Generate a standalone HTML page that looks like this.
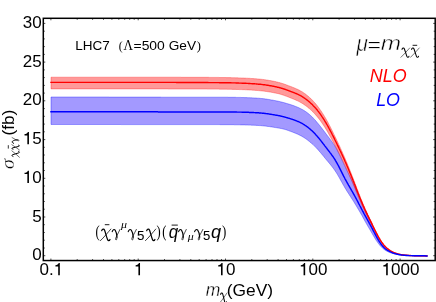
<!DOCTYPE html>
<html><head><meta charset="utf-8"><title>plot</title>
<style>html,body{margin:0;padding:0;background:#fff;}body{width:436px;height:302px;overflow:hidden;font-family:"Liberation Sans",sans-serif;}svg{display:block;position:absolute;left:0;top:0;will-change:transform;}</style></head>
<body>
<svg width="436" height="302" viewBox="0 0 436 302">
<rect width="436" height="302" fill="#fff"/>
<path d="M51.0 97.0 L51.5 97.0 L52.0 97.0 L52.5 97.0 L53.0 97.0 L53.5 97.0 L54.0 97.0 L54.5 97.0 L55.0 97.0 L55.5 97.0 L56.0 97.0 L56.5 97.0 L57.0 97.0 L57.5 97.0 L58.0 97.0 L58.5 97.0 L59.0 97.0 L59.5 97.0 L60.0 97.0 L60.5 97.0 L61.0 97.0 L61.5 97.0 L62.0 97.0 L62.5 97.0 L63.0 97.0 L63.5 97.0 L64.0 97.0 L64.5 97.0 L65.0 97.0 L65.5 97.0 L66.0 97.0 L66.5 97.0 L67.0 97.0 L67.5 97.0 L68.0 97.0 L68.5 97.0 L69.0 97.0 L69.5 97.0 L70.0 97.0 L70.5 97.0 L71.0 97.0 L71.5 97.0 L72.0 97.0 L72.5 97.0 L73.0 97.0 L73.5 97.0 L74.0 97.0 L74.5 97.0 L75.0 97.0 L75.5 97.0 L76.0 97.0 L76.5 97.0 L77.0 97.0 L77.5 97.0 L78.0 97.0 L78.5 97.0 L79.0 97.0 L79.5 97.0 L80.0 97.0 L80.5 97.0 L81.0 97.0 L81.5 97.0 L82.0 97.0 L82.5 97.0 L83.0 97.0 L83.5 97.0 L84.0 97.0 L84.5 97.0 L85.0 97.0 L85.5 97.0 L86.0 97.0 L86.5 97.0 L87.0 97.0 L87.5 97.0 L88.0 97.0 L88.5 97.0 L89.0 97.0 L89.5 97.0 L90.0 97.0 L90.5 97.0 L91.0 97.0 L91.5 97.0 L92.0 97.0 L92.5 97.0 L93.0 97.0 L93.5 97.0 L94.0 97.0 L94.5 97.0 L95.0 97.0 L95.5 97.0 L96.0 97.0 L96.5 97.0 L97.0 97.0 L97.5 97.0 L98.0 97.0 L98.5 97.0 L99.0 97.0 L99.5 97.0 L100.0 97.0 L100.5 97.0 L101.0 97.0 L101.5 97.0 L102.0 97.0 L102.5 97.0 L103.0 97.0 L103.5 97.0 L104.0 97.0 L104.5 97.0 L105.0 97.0 L105.5 97.0 L106.0 97.0 L106.5 97.0 L107.0 97.0 L107.5 97.0 L108.0 97.0 L108.5 97.0 L109.0 97.1 L109.5 97.1 L110.0 97.1 L110.5 97.1 L111.0 97.1 L111.5 97.1 L112.0 97.1 L112.5 97.1 L113.0 97.1 L113.5 97.1 L114.0 97.1 L114.5 97.1 L115.0 97.1 L115.5 97.1 L116.0 97.1 L116.5 97.1 L117.0 97.1 L117.5 97.1 L118.0 97.1 L118.5 97.1 L119.0 97.1 L119.5 97.1 L120.0 97.1 L120.5 97.1 L121.0 97.1 L121.5 97.1 L122.0 97.1 L122.5 97.1 L123.0 97.1 L123.5 97.1 L124.0 97.1 L124.5 97.1 L125.0 97.1 L125.5 97.1 L126.0 97.1 L126.5 97.1 L127.0 97.1 L127.5 97.1 L128.0 97.1 L128.5 97.1 L129.0 97.1 L129.5 97.1 L130.0 97.1 L130.5 97.1 L131.0 97.1 L131.5 97.1 L132.0 97.1 L132.5 97.1 L133.0 97.1 L133.5 97.1 L134.0 97.1 L134.5 97.1 L135.0 97.1 L135.5 97.1 L136.0 97.1 L136.5 97.1 L137.0 97.1 L137.5 97.1 L138.0 97.1 L138.5 97.1 L139.0 97.1 L139.5 97.1 L140.0 97.1 L140.5 97.1 L141.0 97.1 L141.5 97.1 L142.0 97.1 L142.5 97.1 L143.0 97.1 L143.5 97.1 L144.0 97.1 L144.5 97.1 L145.0 97.1 L145.5 97.1 L146.0 97.1 L146.5 97.1 L147.0 97.1 L147.5 97.1 L148.0 97.1 L148.5 97.1 L149.0 97.1 L149.5 97.1 L150.0 97.1 L150.5 97.1 L151.0 97.1 L151.5 97.1 L152.0 97.1 L152.5 97.1 L153.0 97.1 L153.5 97.1 L154.0 97.1 L154.5 97.1 L155.0 97.1 L155.5 97.1 L156.0 97.1 L156.5 97.1 L157.0 97.1 L157.5 97.1 L158.0 97.1 L158.5 97.1 L159.0 97.1 L159.5 97.1 L160.0 97.1 L160.5 97.1 L161.0 97.2 L161.5 97.2 L162.0 97.2 L162.5 97.2 L163.0 97.2 L163.5 97.2 L164.0 97.2 L164.5 97.2 L165.0 97.2 L165.5 97.2 L166.0 97.2 L166.5 97.2 L167.0 97.2 L167.5 97.2 L168.0 97.2 L168.5 97.2 L169.0 97.2 L169.5 97.2 L170.0 97.2 L170.5 97.2 L171.0 97.2 L171.5 97.2 L172.0 97.2 L172.5 97.2 L173.0 97.2 L173.5 97.2 L174.0 97.2 L174.5 97.2 L175.0 97.2 L175.5 97.2 L176.0 97.2 L176.5 97.2 L177.0 97.2 L177.5 97.2 L178.0 97.2 L178.5 97.2 L179.0 97.2 L179.5 97.2 L180.0 97.2 L180.5 97.2 L181.0 97.2 L181.5 97.2 L182.0 97.2 L182.5 97.2 L183.0 97.2 L183.5 97.2 L184.0 97.2 L184.5 97.2 L185.0 97.2 L185.5 97.2 L186.0 97.2 L186.5 97.2 L187.0 97.2 L187.5 97.2 L188.0 97.2 L188.5 97.2 L189.0 97.2 L189.5 97.2 L190.0 97.2 L190.5 97.2 L191.0 97.2 L191.5 97.2 L192.0 97.2 L192.5 97.2 L193.0 97.2 L193.5 97.2 L194.0 97.2 L194.5 97.2 L195.0 97.2 L195.5 97.2 L196.0 97.2 L196.5 97.2 L197.0 97.2 L197.5 97.2 L198.0 97.2 L198.5 97.2 L199.0 97.2 L199.5 97.2 L200.0 97.2 L200.5 97.2 L201.0 97.2 L201.5 97.2 L202.0 97.2 L202.5 97.2 L203.0 97.2 L203.5 97.2 L204.0 97.2 L204.5 97.2 L205.0 97.2 L205.5 97.2 L206.0 97.2 L206.5 97.2 L207.0 97.2 L207.5 97.2 L208.0 97.2 L208.5 97.2 L209.0 97.2 L209.5 97.2 L210.0 97.2 L210.5 97.2 L211.0 97.2 L211.5 97.2 L212.0 97.2 L212.5 97.2 L213.0 97.2 L213.5 97.2 L214.0 97.2 L214.5 97.2 L215.0 97.2 L215.5 97.2 L216.0 97.2 L216.5 97.2 L217.0 97.2 L217.5 97.2 L218.0 97.2 L218.5 97.2 L219.0 97.2 L219.5 97.2 L220.0 97.2 L220.5 97.2 L221.0 97.2 L221.5 97.2 L222.0 97.2 L222.5 97.2 L223.0 97.2 L223.5 97.2 L224.0 97.2 L224.5 97.2 L225.0 97.2 L225.5 97.2 L226.0 97.2 L226.5 97.2 L227.0 97.2 L227.5 97.2 L228.0 97.3 L228.5 97.3 L229.0 97.3 L229.5 97.3 L230.0 97.3 L230.5 97.3 L231.0 97.3 L231.5 97.3 L232.0 97.3 L232.5 97.3 L233.0 97.3 L233.5 97.3 L234.0 97.3 L234.5 97.3 L235.0 97.3 L235.5 97.3 L236.0 97.4 L236.5 97.4 L237.0 97.4 L237.5 97.4 L238.0 97.4 L238.5 97.4 L239.0 97.4 L239.5 97.4 L240.0 97.4 L240.5 97.4 L241.0 97.5 L241.5 97.5 L242.0 97.5 L242.5 97.5 L243.0 97.5 L243.5 97.5 L244.0 97.5 L244.5 97.6 L245.0 97.6 L245.5 97.6 L246.0 97.6 L246.5 97.6 L247.0 97.6 L247.5 97.7 L248.0 97.7 L248.5 97.7 L249.0 97.7 L249.5 97.7 L250.0 97.8 L250.5 97.8 L251.0 97.8 L251.5 97.8 L252.0 97.8 L252.5 97.9 L253.0 97.9 L253.5 97.9 L254.0 97.9 L254.5 98.0 L255.0 98.0 L255.5 98.0 L256.0 98.1 L256.5 98.1 L257.0 98.1 L257.5 98.2 L258.0 98.2 L258.5 98.2 L259.0 98.3 L259.5 98.3 L260.0 98.3 L260.5 98.4 L261.0 98.4 L261.5 98.5 L262.0 98.5 L262.5 98.6 L263.0 98.6 L263.5 98.7 L264.0 98.8 L264.5 98.8 L265.0 98.9 L265.5 99.0 L266.0 99.0 L266.5 99.1 L267.0 99.2 L267.5 99.3 L268.0 99.3 L268.5 99.4 L269.0 99.5 L269.5 99.6 L270.0 99.7 L270.5 99.8 L271.0 99.9 L271.5 100.0 L272.0 100.0 L272.5 100.1 L273.0 100.2 L273.5 100.3 L274.0 100.4 L274.5 100.5 L275.0 100.6 L275.5 100.7 L276.0 100.8 L276.5 100.9 L277.0 101.0 L277.5 101.1 L278.0 101.2 L278.5 101.3 L279.0 101.4 L279.5 101.5 L280.0 101.7 L280.5 101.8 L281.0 101.9 L281.5 102.0 L282.0 102.1 L282.5 102.3 L283.0 102.4 L283.5 102.5 L284.0 102.7 L284.5 102.8 L285.0 103.0 L285.5 103.1 L286.0 103.2 L286.5 103.4 L287.0 103.5 L287.5 103.7 L288.0 103.8 L288.5 104.0 L289.0 104.1 L289.5 104.3 L290.0 104.5 L290.5 104.6 L291.0 104.8 L291.5 104.9 L292.0 105.1 L292.5 105.3 L293.0 105.4 L293.5 105.6 L294.0 105.8 L294.5 106.0 L295.0 106.2 L295.5 106.4 L296.0 106.6 L296.5 106.8 L297.0 107.0 L297.5 107.2 L298.0 107.4 L298.5 107.6 L299.0 107.9 L299.5 108.1 L300.0 108.4 L300.5 108.6 L301.0 108.9 L301.5 109.1 L302.0 109.4 L302.5 109.6 L303.0 109.9 L303.5 110.2 L304.0 110.5 L304.5 110.8 L305.0 111.2 L305.5 111.5 L306.0 111.8 L306.5 112.2 L307.0 112.6 L307.5 112.9 L308.0 113.3 L308.5 113.7 L309.0 114.1 L309.5 114.6 L310.0 115.0 L310.5 115.4 L311.0 115.9 L311.5 116.4 L312.0 116.8 L312.5 117.3 L313.0 117.8 L313.5 118.4 L314.0 118.9 L314.5 119.4 L315.0 120.0 L315.5 120.5 L316.0 121.1 L316.5 121.7 L317.0 122.3 L317.5 122.9 L318.0 123.5 L318.5 124.1 L319.0 124.7 L319.5 125.3 L320.0 125.9 L320.5 126.6 L321.0 127.2 L321.5 127.8 L322.0 128.5 L322.5 129.1 L323.0 129.8 L323.5 130.4 L324.0 131.1 L324.5 131.8 L325.0 132.4 L325.5 133.1 L326.0 133.8 L326.5 134.4 L327.0 135.1 L327.5 135.8 L328.0 136.4 L328.5 137.1 L329.0 137.7 L329.5 138.4 L330.0 139.1 L330.5 139.8 L331.0 140.4 L331.5 141.1 L332.0 141.9 L332.5 142.6 L333.0 143.3 L333.5 144.0 L334.0 144.8 L334.5 145.5 L335.0 146.3 L335.5 147.2 L336.0 148.0 L336.5 148.9 L337.0 149.8 L337.5 150.8 L338.0 151.8 L338.5 152.8 L339.0 153.8 L339.5 154.8 L340.0 155.8 L340.5 156.9 L341.0 158.0 L341.5 159.0 L342.0 160.1 L342.5 161.2 L343.0 162.2 L343.5 163.3 L344.0 164.3 L344.5 165.4 L345.0 166.4 L345.5 167.5 L346.0 168.6 L346.5 169.6 L347.0 170.7 L347.5 171.7 L348.0 172.7 L348.5 173.7 L349.0 174.7 L349.5 175.7 L350.0 176.7 L350.5 177.7 L351.0 178.7 L351.5 179.7 L352.0 180.7 L352.5 181.8 L353.0 182.9 L353.5 183.9 L354.0 185.0 L354.5 186.1 L355.0 187.2 L355.5 188.3 L356.0 189.5 L356.5 190.6 L357.0 191.7 L357.5 192.9 L358.0 194.0 L358.5 195.2 L359.0 196.3 L359.5 197.5 L360.0 198.6 L360.5 199.7 L361.0 200.9 L361.5 202.0 L362.0 203.1 L362.5 204.3 L363.0 205.4 L363.5 206.5 L364.0 207.5 L364.5 208.6 L365.0 209.7 L365.5 210.7 L366.0 211.8 L366.5 212.8 L367.0 213.8 L367.5 214.9 L368.0 215.9 L368.5 216.9 L369.0 218.0 L369.5 219.0 L370.0 220.1 L370.5 221.1 L371.0 222.2 L371.5 223.2 L372.0 224.3 L372.5 225.4 L373.0 226.5 L373.5 227.6 L374.0 228.7 L374.5 229.8 L375.0 230.9 L375.5 231.9 L376.0 233.0 L376.5 234.1 L377.0 235.1 L377.5 236.1 L378.0 237.1 L378.5 238.1 L379.0 239.0 L379.5 239.9 L380.0 240.8 L380.5 241.6 L381.0 242.4 L381.5 243.2 L382.0 243.9 L382.5 244.6 L383.0 245.2 L383.5 245.8 L384.0 246.4 L384.5 246.9 L385.0 247.4 L385.5 247.9 L386.0 248.3 L386.5 248.7 L387.0 249.1 L387.5 249.5 L388.0 249.9 L388.5 250.2 L389.0 250.5 L389.5 250.8 L390.0 251.1 L390.5 251.3 L391.0 251.6 L391.5 251.9 L392.0 252.1 L392.5 252.3 L393.0 252.5 L393.5 252.7 L394.0 252.9 L394.5 253.1 L395.0 253.3 L395.5 253.4 L396.0 253.6 L396.5 253.7 L397.0 253.9 L397.5 254.0 L398.0 254.1 L398.5 254.3 L399.0 254.4 L399.5 254.5 L400.0 254.6 L400.5 254.7 L401.0 254.7 L401.5 254.8 L402.0 254.9 L402.5 255.0 L403.0 255.0 L403.5 255.1 L404.0 255.1 L404.5 255.2 L405.0 255.2 L405.5 255.3 L406.0 255.3 L406.5 255.3 L407.0 255.4 L407.5 255.4 L408.0 255.4 L408.5 255.5 L409.0 255.5 L409.5 255.5 L410.0 255.5 L410.5 255.6 L411.0 255.6 L411.5 255.6 L412.0 255.6 L412.5 255.6 L413.0 255.6 L413.5 255.6 L414.0 255.6 L414.5 255.7 L415.0 255.7 L415.5 255.7 L416.0 255.7 L416.5 255.7 L417.0 255.7 L417.5 255.7 L418.0 255.7 L418.5 255.7 L419.0 255.7 L419.5 255.7 L420.0 255.7 L420.5 255.8 L421.0 255.8 L421.5 255.8 L422.0 255.8 L422.5 255.8 L423.0 255.8 L423.5 255.8 L424.0 255.8 L424.5 255.8 L425.0 255.8 L425.5 255.8 L426.0 255.8 L426.5 255.9 L427.0 255.9 L427.0 255.9 L426.5 255.9 L426.0 255.9 L425.5 255.9 L425.0 255.9 L424.5 255.9 L424.0 255.9 L423.5 255.9 L423.0 255.9 L422.5 255.8 L422.0 255.8 L421.5 255.8 L421.0 255.8 L420.5 255.8 L420.0 255.8 L419.5 255.8 L419.0 255.8 L418.5 255.8 L418.0 255.8 L417.5 255.8 L417.0 255.8 L416.5 255.8 L416.0 255.8 L415.5 255.8 L415.0 255.8 L414.5 255.8 L414.0 255.8 L413.5 255.7 L413.0 255.7 L412.5 255.7 L412.0 255.7 L411.5 255.7 L411.0 255.7 L410.5 255.7 L410.0 255.7 L409.5 255.7 L409.0 255.6 L408.5 255.6 L408.0 255.6 L407.5 255.6 L407.0 255.6 L406.5 255.5 L406.0 255.5 L405.5 255.5 L405.0 255.5 L404.5 255.4 L404.0 255.4 L403.5 255.4 L403.0 255.3 L402.5 255.3 L402.0 255.2 L401.5 255.2 L401.0 255.1 L400.5 255.1 L400.0 255.0 L399.5 254.9 L399.0 254.9 L398.5 254.8 L398.0 254.7 L397.5 254.6 L397.0 254.5 L396.5 254.4 L396.0 254.3 L395.5 254.2 L395.0 254.1 L394.5 254.0 L394.0 253.9 L393.5 253.7 L393.0 253.6 L392.5 253.4 L392.0 253.3 L391.5 253.1 L391.0 253.0 L390.5 252.8 L390.0 252.6 L389.5 252.4 L389.0 252.2 L388.5 252.0 L388.0 251.7 L387.5 251.5 L387.0 251.2 L386.5 251.0 L386.0 250.7 L385.5 250.4 L385.0 250.1 L384.5 249.7 L384.0 249.3 L383.5 248.9 L383.0 248.5 L382.5 248.1 L382.0 247.6 L381.5 247.1 L381.0 246.6 L380.5 246.1 L380.0 245.5 L379.5 244.9 L379.0 244.2 L378.5 243.6 L378.0 242.9 L377.5 242.2 L377.0 241.5 L376.5 240.8 L376.0 240.1 L375.5 239.3 L375.0 238.4 L374.5 237.6 L374.0 236.7 L373.5 235.9 L373.0 235.0 L372.5 234.2 L372.0 233.3 L371.5 232.4 L371.0 231.6 L370.5 230.7 L370.0 229.8 L369.5 229.0 L369.0 228.1 L368.5 227.3 L368.0 226.4 L367.5 225.6 L367.0 224.7 L366.5 223.8 L366.0 222.9 L365.5 222.0 L365.0 221.2 L364.5 220.3 L364.0 219.3 L363.5 218.4 L363.0 217.5 L362.5 216.5 L362.0 215.6 L361.5 214.7 L361.0 213.9 L360.5 213.0 L360.0 212.2 L359.5 211.3 L359.0 210.5 L358.5 209.6 L358.0 208.8 L357.5 207.9 L357.0 207.1 L356.5 206.2 L356.0 205.4 L355.5 204.6 L355.0 203.8 L354.5 202.9 L354.0 202.1 L353.5 201.3 L353.0 200.5 L352.5 199.7 L352.0 199.0 L351.5 198.2 L351.0 197.4 L350.5 196.6 L350.0 195.9 L349.5 195.1 L349.0 194.3 L348.5 193.5 L348.0 192.8 L347.5 192.0 L347.0 191.2 L346.5 190.4 L346.0 189.5 L345.5 188.7 L345.0 187.9 L344.5 187.0 L344.0 186.1 L343.5 185.3 L343.0 184.4 L342.5 183.5 L342.0 182.6 L341.5 181.7 L341.0 180.8 L340.5 179.9 L340.0 179.0 L339.5 178.1 L339.0 177.2 L338.5 176.3 L338.0 175.5 L337.5 174.6 L337.0 173.8 L336.5 173.0 L336.0 172.2 L335.5 171.5 L335.0 170.7 L334.5 170.0 L334.0 169.3 L333.5 168.6 L333.0 167.9 L332.5 167.2 L332.0 166.6 L331.5 166.0 L331.0 165.3 L330.5 164.7 L330.0 164.1 L329.5 163.5 L329.0 162.9 L328.5 162.3 L328.0 161.7 L327.5 161.1 L327.0 160.5 L326.5 159.9 L326.0 159.3 L325.5 158.7 L325.0 158.1 L324.5 157.5 L324.0 156.8 L323.5 156.2 L323.0 155.6 L322.5 155.0 L322.0 154.4 L321.5 153.8 L321.0 153.2 L320.5 152.6 L320.0 152.0 L319.5 151.5 L319.0 150.9 L318.5 150.3 L318.0 149.7 L317.5 149.2 L317.0 148.7 L316.5 148.1 L316.0 147.6 L315.5 147.1 L315.0 146.6 L314.5 146.1 L314.0 145.6 L313.5 145.1 L313.0 144.6 L312.5 144.2 L312.0 143.7 L311.5 143.3 L311.0 142.8 L310.5 142.4 L310.0 142.0 L309.5 141.6 L309.0 141.2 L308.5 140.8 L308.0 140.4 L307.5 140.0 L307.0 139.6 L306.5 139.3 L306.0 138.9 L305.5 138.6 L305.0 138.3 L304.5 137.9 L304.0 137.6 L303.5 137.3 L303.0 137.0 L302.5 136.7 L302.0 136.4 L301.5 136.1 L301.0 135.9 L300.5 135.6 L300.0 135.4 L299.5 135.1 L299.0 134.9 L298.5 134.6 L298.0 134.4 L297.5 134.1 L297.0 133.9 L296.5 133.7 L296.0 133.5 L295.5 133.3 L295.0 133.1 L294.5 132.9 L294.0 132.7 L293.5 132.5 L293.0 132.3 L292.5 132.1 L292.0 131.9 L291.5 131.7 L291.0 131.5 L290.5 131.3 L290.0 131.2 L289.5 131.0 L289.0 130.8 L288.5 130.6 L288.0 130.4 L287.5 130.3 L287.0 130.1 L286.5 129.9 L286.0 129.8 L285.5 129.6 L285.0 129.4 L284.5 129.3 L284.0 129.2 L283.5 129.1 L283.0 129.0 L282.5 128.8 L282.0 128.7 L281.5 128.6 L281.0 128.5 L280.5 128.4 L280.0 128.3 L279.5 128.2 L279.0 128.1 L278.5 128.1 L278.0 128.0 L277.5 127.9 L277.0 127.8 L276.5 127.7 L276.0 127.6 L275.5 127.6 L275.0 127.5 L274.5 127.4 L274.0 127.3 L273.5 127.2 L273.0 127.2 L272.5 127.1 L272.0 127.0 L271.5 126.9 L271.0 126.9 L270.5 126.8 L270.0 126.7 L269.5 126.6 L269.0 126.6 L268.5 126.5 L268.0 126.4 L267.5 126.4 L267.0 126.3 L266.5 126.2 L266.0 126.2 L265.5 126.1 L265.0 126.1 L264.5 126.0 L264.0 125.9 L263.5 125.9 L263.0 125.8 L262.5 125.8 L262.0 125.8 L261.5 125.7 L261.0 125.7 L260.5 125.6 L260.0 125.6 L259.5 125.6 L259.0 125.5 L258.5 125.5 L258.0 125.5 L257.5 125.4 L257.0 125.4 L256.5 125.4 L256.0 125.4 L255.5 125.3 L255.0 125.3 L254.5 125.3 L254.0 125.3 L253.5 125.2 L253.0 125.2 L252.5 125.2 L252.0 125.2 L251.5 125.2 L251.0 125.1 L250.5 125.1 L250.0 125.1 L249.5 125.1 L249.0 125.1 L248.5 125.1 L248.0 125.0 L247.5 125.0 L247.0 125.0 L246.5 125.0 L246.0 125.0 L245.5 125.0 L245.0 125.0 L244.5 124.9 L244.0 124.9 L243.5 124.9 L243.0 124.9 L242.5 124.9 L242.0 124.9 L241.5 124.9 L241.0 124.9 L240.5 124.9 L240.0 124.8 L239.5 124.8 L239.0 124.8 L238.5 124.8 L238.0 124.8 L237.5 124.8 L237.0 124.8 L236.5 124.8 L236.0 124.8 L235.5 124.8 L235.0 124.8 L234.5 124.8 L234.0 124.8 L233.5 124.7 L233.0 124.7 L232.5 124.7 L232.0 124.7 L231.5 124.7 L231.0 124.7 L230.5 124.7 L230.0 124.7 L229.5 124.7 L229.0 124.7 L228.5 124.7 L228.0 124.7 L227.5 124.7 L227.0 124.7 L226.5 124.7 L226.0 124.7 L225.5 124.7 L225.0 124.7 L224.5 124.7 L224.0 124.7 L223.5 124.7 L223.0 124.7 L222.5 124.7 L222.0 124.7 L221.5 124.7 L221.0 124.7 L220.5 124.7 L220.0 124.7 L219.5 124.6 L219.0 124.6 L218.5 124.6 L218.0 124.6 L217.5 124.6 L217.0 124.6 L216.5 124.6 L216.0 124.6 L215.5 124.6 L215.0 124.6 L214.5 124.6 L214.0 124.6 L213.5 124.6 L213.0 124.6 L212.5 124.6 L212.0 124.6 L211.5 124.6 L211.0 124.6 L210.5 124.6 L210.0 124.6 L209.5 124.6 L209.0 124.6 L208.5 124.6 L208.0 124.6 L207.5 124.6 L207.0 124.6 L206.5 124.6 L206.0 124.6 L205.5 124.6 L205.0 124.6 L204.5 124.6 L204.0 124.6 L203.5 124.6 L203.0 124.6 L202.5 124.6 L202.0 124.6 L201.5 124.6 L201.0 124.6 L200.5 124.6 L200.0 124.6 L199.5 124.6 L199.0 124.6 L198.5 124.6 L198.0 124.6 L197.5 124.6 L197.0 124.6 L196.5 124.6 L196.0 124.6 L195.5 124.6 L195.0 124.6 L194.5 124.6 L194.0 124.6 L193.5 124.6 L193.0 124.6 L192.5 124.6 L192.0 124.6 L191.5 124.6 L191.0 124.6 L190.5 124.6 L190.0 124.6 L189.5 124.6 L189.0 124.6 L188.5 124.6 L188.0 124.6 L187.5 124.6 L187.0 124.6 L186.5 124.6 L186.0 124.6 L185.5 124.6 L185.0 124.6 L184.5 124.6 L184.0 124.6 L183.5 124.6 L183.0 124.6 L182.5 124.6 L182.0 124.6 L181.5 124.6 L181.0 124.6 L180.5 124.6 L180.0 124.6 L179.5 124.6 L179.0 124.6 L178.5 124.6 L178.0 124.6 L177.5 124.6 L177.0 124.6 L176.5 124.6 L176.0 124.6 L175.5 124.6 L175.0 124.6 L174.5 124.6 L174.0 124.6 L173.5 124.6 L173.0 124.6 L172.5 124.6 L172.0 124.6 L171.5 124.6 L171.0 124.6 L170.5 124.6 L170.0 124.6 L169.5 124.6 L169.0 124.6 L168.5 124.6 L168.0 124.6 L167.5 124.6 L167.0 124.6 L166.5 124.6 L166.0 124.6 L165.5 124.6 L165.0 124.6 L164.5 124.6 L164.0 124.6 L163.5 124.6 L163.0 124.6 L162.5 124.6 L162.0 124.6 L161.5 124.6 L161.0 124.6 L160.5 124.6 L160.0 124.6 L159.5 124.6 L159.0 124.6 L158.5 124.6 L158.0 124.6 L157.5 124.6 L157.0 124.6 L156.5 124.6 L156.0 124.6 L155.5 124.6 L155.0 124.6 L154.5 124.6 L154.0 124.6 L153.5 124.6 L153.0 124.6 L152.5 124.6 L152.0 124.6 L151.5 124.6 L151.0 124.6 L150.5 124.6 L150.0 124.6 L149.5 124.6 L149.0 124.6 L148.5 124.6 L148.0 124.6 L147.5 124.6 L147.0 124.6 L146.5 124.6 L146.0 124.6 L145.5 124.6 L145.0 124.6 L144.5 124.6 L144.0 124.6 L143.5 124.6 L143.0 124.6 L142.5 124.6 L142.0 124.6 L141.5 124.6 L141.0 124.6 L140.5 124.6 L140.0 124.6 L139.5 124.6 L139.0 124.6 L138.5 124.6 L138.0 124.6 L137.5 124.6 L137.0 124.6 L136.5 124.6 L136.0 124.6 L135.5 124.6 L135.0 124.6 L134.5 124.6 L134.0 124.6 L133.5 124.6 L133.0 124.6 L132.5 124.6 L132.0 124.6 L131.5 124.6 L131.0 124.6 L130.5 124.6 L130.0 124.6 L129.5 124.6 L129.0 124.6 L128.5 124.6 L128.0 124.6 L127.5 124.6 L127.0 124.6 L126.5 124.6 L126.0 124.6 L125.5 124.6 L125.0 124.6 L124.5 124.6 L124.0 124.6 L123.5 124.6 L123.0 124.6 L122.5 124.6 L122.0 124.6 L121.5 124.6 L121.0 124.5 L120.5 124.5 L120.0 124.5 L119.5 124.5 L119.0 124.5 L118.5 124.5 L118.0 124.5 L117.5 124.5 L117.0 124.5 L116.5 124.5 L116.0 124.5 L115.5 124.5 L115.0 124.5 L114.5 124.5 L114.0 124.5 L113.5 124.5 L113.0 124.5 L112.5 124.5 L112.0 124.5 L111.5 124.5 L111.0 124.5 L110.5 124.5 L110.0 124.5 L109.5 124.5 L109.0 124.5 L108.5 124.5 L108.0 124.5 L107.5 124.5 L107.0 124.5 L106.5 124.5 L106.0 124.5 L105.5 124.5 L105.0 124.5 L104.5 124.5 L104.0 124.5 L103.5 124.5 L103.0 124.5 L102.5 124.5 L102.0 124.5 L101.5 124.5 L101.0 124.5 L100.5 124.5 L100.0 124.5 L99.5 124.5 L99.0 124.5 L98.5 124.5 L98.0 124.5 L97.5 124.5 L97.0 124.5 L96.5 124.5 L96.0 124.5 L95.5 124.5 L95.0 124.5 L94.5 124.5 L94.0 124.5 L93.5 124.5 L93.0 124.5 L92.5 124.5 L92.0 124.5 L91.5 124.5 L91.0 124.5 L90.5 124.5 L90.0 124.5 L89.5 124.5 L89.0 124.5 L88.5 124.5 L88.0 124.5 L87.5 124.5 L87.0 124.5 L86.5 124.5 L86.0 124.5 L85.5 124.5 L85.0 124.5 L84.5 124.5 L84.0 124.5 L83.5 124.5 L83.0 124.5 L82.5 124.5 L82.0 124.5 L81.5 124.5 L81.0 124.5 L80.5 124.5 L80.0 124.5 L79.5 124.5 L79.0 124.5 L78.5 124.5 L78.0 124.5 L77.5 124.5 L77.0 124.5 L76.5 124.5 L76.0 124.5 L75.5 124.5 L75.0 124.5 L74.5 124.5 L74.0 124.5 L73.5 124.5 L73.0 124.5 L72.5 124.5 L72.0 124.5 L71.5 124.5 L71.0 124.5 L70.5 124.5 L70.0 124.5 L69.5 124.5 L69.0 124.5 L68.5 124.5 L68.0 124.5 L67.5 124.5 L67.0 124.5 L66.5 124.5 L66.0 124.5 L65.5 124.5 L65.0 124.5 L64.5 124.5 L64.0 124.5 L63.5 124.5 L63.0 124.5 L62.5 124.5 L62.0 124.5 L61.5 124.5 L61.0 124.5 L60.5 124.5 L60.0 124.5 L59.5 124.5 L59.0 124.5 L58.5 124.5 L58.0 124.5 L57.5 124.5 L57.0 124.5 L56.5 124.5 L56.0 124.5 L55.5 124.5 L55.0 124.5 L54.5 124.5 L54.0 124.5 L53.5 124.5 L53.0 124.5 L52.5 124.5 L52.0 124.5 L51.5 124.5 L51.0 124.5Z" fill="#1900ff" fill-opacity="0.40" stroke="#0000ff" stroke-opacity="0.5" stroke-width="0.7"/>
<path d="M51.0 77.2 L51.5 77.2 L52.0 77.2 L52.5 77.2 L53.0 77.2 L53.5 77.2 L54.0 77.2 L54.5 77.2 L55.0 77.2 L55.5 77.2 L56.0 77.2 L56.5 77.2 L57.0 77.2 L57.5 77.2 L58.0 77.2 L58.5 77.2 L59.0 77.2 L59.5 77.2 L60.0 77.2 L60.5 77.2 L61.0 77.2 L61.5 77.2 L62.0 77.2 L62.5 77.2 L63.0 77.2 L63.5 77.2 L64.0 77.2 L64.5 77.2 L65.0 77.2 L65.5 77.2 L66.0 77.2 L66.5 77.2 L67.0 77.2 L67.5 77.2 L68.0 77.2 L68.5 77.2 L69.0 77.2 L69.5 77.2 L70.0 77.2 L70.5 77.2 L71.0 77.2 L71.5 77.2 L72.0 77.2 L72.5 77.2 L73.0 77.2 L73.5 77.2 L74.0 77.2 L74.5 77.2 L75.0 77.2 L75.5 77.2 L76.0 77.2 L76.5 77.2 L77.0 77.2 L77.5 77.2 L78.0 77.2 L78.5 77.2 L79.0 77.2 L79.5 77.2 L80.0 77.2 L80.5 77.2 L81.0 77.2 L81.5 77.2 L82.0 77.2 L82.5 77.2 L83.0 77.2 L83.5 77.2 L84.0 77.2 L84.5 77.2 L85.0 77.2 L85.5 77.2 L86.0 77.2 L86.5 77.2 L87.0 77.2 L87.5 77.2 L88.0 77.2 L88.5 77.2 L89.0 77.2 L89.5 77.2 L90.0 77.2 L90.5 77.2 L91.0 77.2 L91.5 77.2 L92.0 77.2 L92.5 77.2 L93.0 77.2 L93.5 77.2 L94.0 77.2 L94.5 77.2 L95.0 77.2 L95.5 77.2 L96.0 77.2 L96.5 77.2 L97.0 77.2 L97.5 77.2 L98.0 77.2 L98.5 77.2 L99.0 77.2 L99.5 77.2 L100.0 77.2 L100.5 77.2 L101.0 77.2 L101.5 77.2 L102.0 77.2 L102.5 77.2 L103.0 77.2 L103.5 77.2 L104.0 77.2 L104.5 77.2 L105.0 77.2 L105.5 77.2 L106.0 77.2 L106.5 77.2 L107.0 77.2 L107.5 77.2 L108.0 77.2 L108.5 77.2 L109.0 77.2 L109.5 77.2 L110.0 77.2 L110.5 77.2 L111.0 77.2 L111.5 77.2 L112.0 77.2 L112.5 77.2 L113.0 77.2 L113.5 77.2 L114.0 77.2 L114.5 77.2 L115.0 77.2 L115.5 77.2 L116.0 77.2 L116.5 77.2 L117.0 77.2 L117.5 77.2 L118.0 77.2 L118.5 77.2 L119.0 77.2 L119.5 77.2 L120.0 77.2 L120.5 77.2 L121.0 77.2 L121.5 77.2 L122.0 77.2 L122.5 77.2 L123.0 77.2 L123.5 77.2 L124.0 77.2 L124.5 77.2 L125.0 77.2 L125.5 77.2 L126.0 77.2 L126.5 77.2 L127.0 77.2 L127.5 77.2 L128.0 77.2 L128.5 77.2 L129.0 77.2 L129.5 77.2 L130.0 77.2 L130.5 77.2 L131.0 77.2 L131.5 77.2 L132.0 77.2 L132.5 77.2 L133.0 77.2 L133.5 77.2 L134.0 77.2 L134.5 77.2 L135.0 77.2 L135.5 77.2 L136.0 77.2 L136.5 77.2 L137.0 77.2 L137.5 77.2 L138.0 77.2 L138.5 77.2 L139.0 77.2 L139.5 77.2 L140.0 77.2 L140.5 77.2 L141.0 77.2 L141.5 77.2 L142.0 77.2 L142.5 77.2 L143.0 77.2 L143.5 77.2 L144.0 77.2 L144.5 77.2 L145.0 77.2 L145.5 77.2 L146.0 77.2 L146.5 77.2 L147.0 77.2 L147.5 77.2 L148.0 77.2 L148.5 77.2 L149.0 77.2 L149.5 77.2 L150.0 77.2 L150.5 77.2 L151.0 77.2 L151.5 77.2 L152.0 77.2 L152.5 77.2 L153.0 77.2 L153.5 77.2 L154.0 77.2 L154.5 77.2 L155.0 77.2 L155.5 77.2 L156.0 77.2 L156.5 77.2 L157.0 77.2 L157.5 77.2 L158.0 77.2 L158.5 77.2 L159.0 77.2 L159.5 77.2 L160.0 77.2 L160.5 77.2 L161.0 77.2 L161.5 77.2 L162.0 77.2 L162.5 77.2 L163.0 77.2 L163.5 77.2 L164.0 77.2 L164.5 77.2 L165.0 77.2 L165.5 77.2 L166.0 77.2 L166.5 77.2 L167.0 77.2 L167.5 77.2 L168.0 77.2 L168.5 77.2 L169.0 77.2 L169.5 77.2 L170.0 77.2 L170.5 77.2 L171.0 77.2 L171.5 77.2 L172.0 77.2 L172.5 77.2 L173.0 77.2 L173.5 77.2 L174.0 77.2 L174.5 77.2 L175.0 77.2 L175.5 77.2 L176.0 77.2 L176.5 77.2 L177.0 77.2 L177.5 77.2 L178.0 77.2 L178.5 77.2 L179.0 77.2 L179.5 77.2 L180.0 77.2 L180.5 77.2 L181.0 77.3 L181.5 77.3 L182.0 77.3 L182.5 77.3 L183.0 77.3 L183.5 77.3 L184.0 77.3 L184.5 77.3 L185.0 77.3 L185.5 77.3 L186.0 77.3 L186.5 77.3 L187.0 77.3 L187.5 77.3 L188.0 77.3 L188.5 77.3 L189.0 77.3 L189.5 77.3 L190.0 77.3 L190.5 77.3 L191.0 77.3 L191.5 77.3 L192.0 77.3 L192.5 77.3 L193.0 77.3 L193.5 77.3 L194.0 77.3 L194.5 77.3 L195.0 77.3 L195.5 77.3 L196.0 77.3 L196.5 77.3 L197.0 77.3 L197.5 77.3 L198.0 77.3 L198.5 77.3 L199.0 77.3 L199.5 77.3 L200.0 77.3 L200.5 77.3 L201.0 77.3 L201.5 77.3 L202.0 77.3 L202.5 77.3 L203.0 77.3 L203.5 77.3 L204.0 77.3 L204.5 77.3 L205.0 77.3 L205.5 77.3 L206.0 77.3 L206.5 77.3 L207.0 77.3 L207.5 77.3 L208.0 77.3 L208.5 77.3 L209.0 77.4 L209.5 77.4 L210.0 77.4 L210.5 77.4 L211.0 77.4 L211.5 77.4 L212.0 77.4 L212.5 77.4 L213.0 77.4 L213.5 77.4 L214.0 77.4 L214.5 77.4 L215.0 77.4 L215.5 77.4 L216.0 77.4 L216.5 77.4 L217.0 77.4 L217.5 77.4 L218.0 77.4 L218.5 77.4 L219.0 77.4 L219.5 77.5 L220.0 77.5 L220.5 77.5 L221.0 77.5 L221.5 77.5 L222.0 77.5 L222.5 77.5 L223.0 77.5 L223.5 77.5 L224.0 77.5 L224.5 77.5 L225.0 77.5 L225.5 77.5 L226.0 77.5 L226.5 77.6 L227.0 77.6 L227.5 77.6 L228.0 77.6 L228.5 77.6 L229.0 77.6 L229.5 77.6 L230.0 77.6 L230.5 77.6 L231.0 77.6 L231.5 77.7 L232.0 77.7 L232.5 77.7 L233.0 77.7 L233.5 77.7 L234.0 77.7 L234.5 77.7 L235.0 77.7 L235.5 77.8 L236.0 77.8 L236.5 77.8 L237.0 77.8 L237.5 77.8 L238.0 77.8 L238.5 77.9 L239.0 77.9 L239.5 77.9 L240.0 77.9 L240.5 77.9 L241.0 77.9 L241.5 78.0 L242.0 78.0 L242.5 78.0 L243.0 78.0 L243.5 78.0 L244.0 78.1 L244.5 78.1 L245.0 78.1 L245.5 78.1 L246.0 78.2 L246.5 78.2 L247.0 78.2 L247.5 78.2 L248.0 78.3 L248.5 78.3 L249.0 78.3 L249.5 78.3 L250.0 78.4 L250.5 78.4 L251.0 78.4 L251.5 78.5 L252.0 78.5 L252.5 78.5 L253.0 78.6 L253.5 78.6 L254.0 78.6 L254.5 78.7 L255.0 78.7 L255.5 78.7 L256.0 78.8 L256.5 78.8 L257.0 78.9 L257.5 78.9 L258.0 79.0 L258.5 79.0 L259.0 79.0 L259.5 79.1 L260.0 79.1 L260.5 79.2 L261.0 79.2 L261.5 79.3 L262.0 79.4 L262.5 79.4 L263.0 79.5 L263.5 79.5 L264.0 79.6 L264.5 79.7 L265.0 79.7 L265.5 79.8 L266.0 79.9 L266.5 80.0 L267.0 80.0 L267.5 80.1 L268.0 80.2 L268.5 80.3 L269.0 80.4 L269.5 80.5 L270.0 80.6 L270.5 80.6 L271.0 80.7 L271.5 80.8 L272.0 80.9 L272.5 81.0 L273.0 81.1 L273.5 81.2 L274.0 81.3 L274.5 81.4 L275.0 81.5 L275.5 81.6 L276.0 81.8 L276.5 81.9 L277.0 82.0 L277.5 82.1 L278.0 82.2 L278.5 82.4 L279.0 82.5 L279.5 82.6 L280.0 82.7 L280.5 82.9 L281.0 83.0 L281.5 83.2 L282.0 83.3 L282.5 83.5 L283.0 83.7 L283.5 83.8 L284.0 84.0 L284.5 84.2 L285.0 84.3 L285.5 84.5 L286.0 84.7 L286.5 84.9 L287.0 85.1 L287.5 85.3 L288.0 85.5 L288.5 85.7 L289.0 85.9 L289.5 86.0 L290.0 86.2 L290.5 86.4 L291.0 86.6 L291.5 86.8 L292.0 87.0 L292.5 87.2 L293.0 87.4 L293.5 87.6 L294.0 87.8 L294.5 88.0 L295.0 88.2 L295.5 88.4 L296.0 88.6 L296.5 88.9 L297.0 89.1 L297.5 89.3 L298.0 89.6 L298.5 89.8 L299.0 90.1 L299.5 90.3 L300.0 90.6 L300.5 90.9 L301.0 91.1 L301.5 91.4 L302.0 91.7 L302.5 92.0 L303.0 92.4 L303.5 92.7 L304.0 93.0 L304.5 93.4 L305.0 93.8 L305.5 94.1 L306.0 94.5 L306.5 94.9 L307.0 95.3 L307.5 95.7 L308.0 96.1 L308.5 96.5 L309.0 97.0 L309.5 97.4 L310.0 97.9 L310.5 98.3 L311.0 98.8 L311.5 99.3 L312.0 99.8 L312.5 100.3 L313.0 100.8 L313.5 101.4 L314.0 101.9 L314.5 102.5 L315.0 103.0 L315.5 103.6 L316.0 104.2 L316.5 104.8 L317.0 105.4 L317.5 106.1 L318.0 106.7 L318.5 107.4 L319.0 108.1 L319.5 108.7 L320.0 109.5 L320.5 110.2 L321.0 110.9 L321.5 111.6 L322.0 112.4 L322.5 113.2 L323.0 114.0 L323.5 114.8 L324.0 115.6 L324.5 116.4 L325.0 117.2 L325.5 118.1 L326.0 118.9 L326.5 119.8 L327.0 120.7 L327.5 121.6 L328.0 122.5 L328.5 123.5 L329.0 124.4 L329.5 125.4 L330.0 126.3 L330.5 127.3 L331.0 128.3 L331.5 129.3 L332.0 130.3 L332.5 131.3 L333.0 132.3 L333.5 133.4 L334.0 134.4 L334.5 135.4 L335.0 136.5 L335.5 137.5 L336.0 138.6 L336.5 139.6 L337.0 140.7 L337.5 141.7 L338.0 142.8 L338.5 143.9 L339.0 144.9 L339.5 146.0 L340.0 147.1 L340.5 148.2 L341.0 149.3 L341.5 150.4 L342.0 151.5 L342.5 152.6 L343.0 153.7 L343.5 154.9 L344.0 156.0 L344.5 157.2 L345.0 158.3 L345.5 159.5 L346.0 160.7 L346.5 161.8 L347.0 163.0 L347.5 164.2 L348.0 165.5 L348.5 166.7 L349.0 167.9 L349.5 169.1 L350.0 170.4 L350.5 171.6 L351.0 172.9 L351.5 174.2 L352.0 175.4 L352.5 176.7 L353.0 178.0 L353.5 179.3 L354.0 180.6 L354.5 181.9 L355.0 183.2 L355.5 184.5 L356.0 185.8 L356.5 187.2 L357.0 188.5 L357.5 189.8 L358.0 191.1 L358.5 192.4 L359.0 193.7 L359.5 195.0 L360.0 196.2 L360.5 197.5 L361.0 198.8 L361.5 200.0 L362.0 201.2 L362.5 202.5 L363.0 203.7 L363.5 204.8 L364.0 206.0 L364.5 207.1 L365.0 208.3 L365.5 209.4 L366.0 210.5 L366.5 211.6 L367.0 212.7 L367.5 213.7 L368.0 214.8 L368.5 215.9 L369.0 216.9 L369.5 218.0 L370.0 219.0 L370.5 220.0 L371.0 221.1 L371.5 222.1 L372.0 223.2 L372.5 224.2 L373.0 225.3 L373.5 226.3 L374.0 227.4 L374.5 228.4 L375.0 229.5 L375.5 230.5 L376.0 231.5 L376.5 232.5 L377.0 233.5 L377.5 234.5 L378.0 235.5 L378.5 236.4 L379.0 237.3 L379.5 238.2 L380.0 239.1 L380.5 239.9 L381.0 240.7 L381.5 241.5 L382.0 242.2 L382.5 242.9 L383.0 243.6 L383.5 244.2 L384.0 244.8 L384.5 245.4 L385.0 246.0 L385.5 246.5 L386.0 247.0 L386.5 247.5 L387.0 248.0 L387.5 248.4 L388.0 248.8 L388.5 249.2 L389.0 249.6 L389.5 249.9 L390.0 250.3 L390.5 250.6 L391.0 250.9 L391.5 251.2 L392.0 251.5 L392.5 251.8 L393.0 252.0 L393.5 252.3 L394.0 252.5 L394.5 252.7 L395.0 252.9 L395.5 253.1 L396.0 253.3 L396.5 253.4 L397.0 253.6 L397.5 253.8 L398.0 253.9 L398.5 254.0 L399.0 254.1 L399.5 254.3 L400.0 254.4 L400.5 254.5 L401.0 254.6 L401.5 254.7 L402.0 254.7 L402.5 254.8 L403.0 254.9 L403.5 255.0 L404.0 255.0 L404.5 255.1 L405.0 255.1 L405.5 255.2 L406.0 255.2 L406.5 255.3 L407.0 255.3 L407.5 255.4 L408.0 255.4 L408.5 255.4 L409.0 255.4 L409.5 255.5 L410.0 255.5 L410.5 255.5 L411.0 255.5 L411.5 255.6 L412.0 255.6 L412.5 255.6 L413.0 255.6 L413.5 255.6 L414.0 255.6 L414.5 255.7 L415.0 255.7 L415.5 255.7 L416.0 255.7 L416.5 255.7 L417.0 255.7 L417.5 255.7 L418.0 255.7 L418.5 255.7 L419.0 255.7 L419.5 255.8 L420.0 255.8 L420.5 255.8 L421.0 255.8 L421.5 255.8 L422.0 255.8 L422.5 255.8 L423.0 255.8 L423.5 255.8 L424.0 255.8 L424.5 255.9 L425.0 255.9 L425.5 255.9 L426.0 255.9 L426.5 255.9 L427.0 255.9 L427.0 255.9 L426.5 255.9 L426.0 255.9 L425.5 255.9 L425.0 255.9 L424.5 255.9 L424.0 255.9 L423.5 255.8 L423.0 255.8 L422.5 255.8 L422.0 255.8 L421.5 255.8 L421.0 255.8 L420.5 255.8 L420.0 255.8 L419.5 255.8 L419.0 255.8 L418.5 255.8 L418.0 255.8 L417.5 255.7 L417.0 255.7 L416.5 255.7 L416.0 255.7 L415.5 255.7 L415.0 255.7 L414.5 255.7 L414.0 255.7 L413.5 255.7 L413.0 255.6 L412.5 255.6 L412.0 255.6 L411.5 255.6 L411.0 255.6 L410.5 255.6 L410.0 255.5 L409.5 255.5 L409.0 255.5 L408.5 255.5 L408.0 255.4 L407.5 255.4 L407.0 255.4 L406.5 255.3 L406.0 255.3 L405.5 255.2 L405.0 255.2 L404.5 255.2 L404.0 255.1 L403.5 255.0 L403.0 255.0 L402.5 254.9 L402.0 254.8 L401.5 254.8 L401.0 254.7 L400.5 254.6 L400.0 254.5 L399.5 254.4 L399.0 254.3 L398.5 254.2 L398.0 254.1 L397.5 253.9 L397.0 253.8 L396.5 253.6 L396.0 253.5 L395.5 253.3 L395.0 253.1 L394.5 253.0 L394.0 252.8 L393.5 252.5 L393.0 252.3 L392.5 252.1 L392.0 251.8 L391.5 251.6 L391.0 251.3 L390.5 251.0 L390.0 250.7 L389.5 250.4 L389.0 250.1 L388.5 249.7 L388.0 249.4 L387.5 249.0 L387.0 248.6 L386.5 248.1 L386.0 247.7 L385.5 247.2 L385.0 246.7 L384.5 246.2 L384.0 245.7 L383.5 245.1 L383.0 244.5 L382.5 243.9 L382.0 243.2 L381.5 242.6 L381.0 241.9 L380.5 241.1 L380.0 240.3 L379.5 239.6 L379.0 238.7 L378.5 237.9 L378.0 237.0 L377.5 236.1 L377.0 235.2 L376.5 234.3 L376.0 233.4 L375.5 232.5 L375.0 231.5 L374.5 230.5 L374.0 229.6 L373.5 228.6 L373.0 227.6 L372.5 226.6 L372.0 225.7 L371.5 224.7 L371.0 223.7 L370.5 222.8 L370.0 221.8 L369.5 220.8 L369.0 219.9 L368.5 218.9 L368.0 217.9 L367.5 216.9 L367.0 215.9 L366.5 214.9 L366.0 213.9 L365.5 212.9 L365.0 211.9 L364.5 210.8 L364.0 209.8 L363.5 208.7 L363.0 207.6 L362.5 206.5 L362.0 205.4 L361.5 204.3 L361.0 203.1 L360.5 201.9 L360.0 200.8 L359.5 199.6 L359.0 198.4 L358.5 197.2 L358.0 196.0 L357.5 194.8 L357.0 193.6 L356.5 192.4 L356.0 191.2 L355.5 189.9 L355.0 188.7 L354.5 187.5 L354.0 186.3 L353.5 185.1 L353.0 183.9 L352.5 182.7 L352.0 181.5 L351.5 180.4 L351.0 179.2 L350.5 178.0 L350.0 176.9 L349.5 175.7 L349.0 174.6 L348.5 173.4 L348.0 172.3 L347.5 171.2 L347.0 170.1 L346.5 169.0 L346.0 167.9 L345.5 166.8 L345.0 165.7 L344.5 164.6 L344.0 163.6 L343.5 162.5 L343.0 161.5 L342.5 160.4 L342.0 159.4 L341.5 158.4 L341.0 157.4 L340.5 156.4 L340.0 155.3 L339.5 154.3 L339.0 153.3 L338.5 152.4 L338.0 151.4 L337.5 150.4 L337.0 149.4 L336.5 148.4 L336.0 147.5 L335.5 146.5 L335.0 145.5 L334.5 144.6 L334.0 143.6 L333.5 142.7 L333.0 141.7 L332.5 140.8 L332.0 139.8 L331.5 138.9 L331.0 138.0 L330.5 137.1 L330.0 136.2 L329.5 135.3 L329.0 134.4 L328.5 133.5 L328.0 132.6 L327.5 131.7 L327.0 130.9 L326.5 130.0 L326.0 129.2 L325.5 128.4 L325.0 127.6 L324.5 126.8 L324.0 126.0 L323.5 125.3 L323.0 124.5 L322.5 123.8 L322.0 123.0 L321.5 122.3 L321.0 121.6 L320.5 120.9 L320.0 120.2 L319.5 119.6 L319.0 118.9 L318.5 118.3 L318.0 117.7 L317.5 117.0 L317.0 116.4 L316.5 115.9 L316.0 115.3 L315.5 114.7 L315.0 114.2 L314.5 113.6 L314.0 113.1 L313.5 112.6 L313.0 112.0 L312.5 111.5 L312.0 111.1 L311.5 110.6 L311.0 110.1 L310.5 109.6 L310.0 109.2 L309.5 108.8 L309.0 108.3 L308.5 107.9 L308.0 107.5 L307.5 107.1 L307.0 106.7 L306.5 106.3 L306.0 105.9 L305.5 105.6 L305.0 105.2 L304.5 104.9 L304.0 104.5 L303.5 104.2 L303.0 103.9 L302.5 103.5 L302.0 103.2 L301.5 102.9 L301.0 102.6 L300.5 102.4 L300.0 102.1 L299.5 101.8 L299.0 101.6 L298.5 101.3 L298.0 101.1 L297.5 100.8 L297.0 100.6 L296.5 100.4 L296.0 100.2 L295.5 99.9 L295.0 99.7 L294.5 99.5 L294.0 99.3 L293.5 99.1 L293.0 98.9 L292.5 98.7 L292.0 98.5 L291.5 98.3 L291.0 98.1 L290.5 97.9 L290.0 97.7 L289.5 97.5 L289.0 97.3 L288.5 97.1 L288.0 96.9 L287.5 96.7 L287.0 96.5 L286.5 96.3 L286.0 96.1 L285.5 96.0 L285.0 95.8 L284.5 95.6 L284.0 95.4 L283.5 95.2 L283.0 95.1 L282.5 94.9 L282.0 94.7 L281.5 94.6 L281.0 94.4 L280.5 94.3 L280.0 94.1 L279.5 94.0 L279.0 93.9 L278.5 93.7 L278.0 93.6 L277.5 93.5 L277.0 93.4 L276.5 93.3 L276.0 93.2 L275.5 93.1 L275.0 93.0 L274.5 92.9 L274.0 92.8 L273.5 92.7 L273.0 92.6 L272.5 92.5 L272.0 92.4 L271.5 92.3 L271.0 92.2 L270.5 92.1 L270.0 92.0 L269.5 92.0 L269.0 91.9 L268.5 91.8 L268.0 91.7 L267.5 91.7 L267.0 91.6 L266.5 91.5 L266.0 91.4 L265.5 91.4 L265.0 91.3 L264.5 91.2 L264.0 91.2 L263.5 91.1 L263.0 91.0 L262.5 91.0 L262.0 90.9 L261.5 90.9 L261.0 90.8 L260.5 90.8 L260.0 90.7 L259.5 90.7 L259.0 90.6 L258.5 90.6 L258.0 90.6 L257.5 90.5 L257.0 90.5 L256.5 90.4 L256.0 90.4 L255.5 90.4 L255.0 90.3 L254.5 90.3 L254.0 90.3 L253.5 90.2 L253.0 90.2 L252.5 90.2 L252.0 90.1 L251.5 90.1 L251.0 90.1 L250.5 90.0 L250.0 90.0 L249.5 90.0 L249.0 90.0 L248.5 89.9 L248.0 89.9 L247.5 89.9 L247.0 89.9 L246.5 89.8 L246.0 89.8 L245.5 89.8 L245.0 89.8 L244.5 89.7 L244.0 89.7 L243.5 89.7 L243.0 89.7 L242.5 89.7 L242.0 89.6 L241.5 89.6 L241.0 89.6 L240.5 89.6 L240.0 89.6 L239.5 89.6 L239.0 89.5 L238.5 89.5 L238.0 89.5 L237.5 89.5 L237.0 89.5 L236.5 89.5 L236.0 89.5 L235.5 89.4 L235.0 89.4 L234.5 89.4 L234.0 89.4 L233.5 89.4 L233.0 89.4 L232.5 89.4 L232.0 89.4 L231.5 89.3 L231.0 89.3 L230.5 89.3 L230.0 89.3 L229.5 89.3 L229.0 89.3 L228.5 89.3 L228.0 89.3 L227.5 89.3 L227.0 89.3 L226.5 89.2 L226.0 89.2 L225.5 89.2 L225.0 89.2 L224.5 89.2 L224.0 89.2 L223.5 89.2 L223.0 89.2 L222.5 89.2 L222.0 89.2 L221.5 89.2 L221.0 89.2 L220.5 89.2 L220.0 89.2 L219.5 89.2 L219.0 89.1 L218.5 89.1 L218.0 89.1 L217.5 89.1 L217.0 89.1 L216.5 89.1 L216.0 89.1 L215.5 89.1 L215.0 89.1 L214.5 89.1 L214.0 89.1 L213.5 89.1 L213.0 89.1 L212.5 89.1 L212.0 89.1 L211.5 89.1 L211.0 89.1 L210.5 89.1 L210.0 89.1 L209.5 89.1 L209.0 89.1 L208.5 89.1 L208.0 89.1 L207.5 89.1 L207.0 89.0 L206.5 89.0 L206.0 89.0 L205.5 89.0 L205.0 89.0 L204.5 89.0 L204.0 89.0 L203.5 89.0 L203.0 89.0 L202.5 89.0 L202.0 89.0 L201.5 89.0 L201.0 89.0 L200.5 89.0 L200.0 89.0 L199.5 89.0 L199.0 89.0 L198.5 89.0 L198.0 89.0 L197.5 89.0 L197.0 89.0 L196.5 89.0 L196.0 89.0 L195.5 89.0 L195.0 89.0 L194.5 89.0 L194.0 89.0 L193.5 89.0 L193.0 89.0 L192.5 89.0 L192.0 89.0 L191.5 89.0 L191.0 89.0 L190.5 89.0 L190.0 89.0 L189.5 89.0 L189.0 89.0 L188.5 89.0 L188.0 89.0 L187.5 89.0 L187.0 89.0 L186.5 89.0 L186.0 89.0 L185.5 89.0 L185.0 89.0 L184.5 89.0 L184.0 89.0 L183.5 89.0 L183.0 89.0 L182.5 89.0 L182.0 89.0 L181.5 89.0 L181.0 89.0 L180.5 89.0 L180.0 89.0 L179.5 89.0 L179.0 89.0 L178.5 89.0 L178.0 89.0 L177.5 89.0 L177.0 89.0 L176.5 89.0 L176.0 89.0 L175.5 89.0 L175.0 89.0 L174.5 89.0 L174.0 89.0 L173.5 89.0 L173.0 89.0 L172.5 89.0 L172.0 89.0 L171.5 89.0 L171.0 89.0 L170.5 89.0 L170.0 89.0 L169.5 89.0 L169.0 89.0 L168.5 89.0 L168.0 88.9 L167.5 88.9 L167.0 88.9 L166.5 88.9 L166.0 88.9 L165.5 88.9 L165.0 88.9 L164.5 88.9 L164.0 88.9 L163.5 88.9 L163.0 88.9 L162.5 88.9 L162.0 88.9 L161.5 88.9 L161.0 88.9 L160.5 88.9 L160.0 88.9 L159.5 88.9 L159.0 88.9 L158.5 88.9 L158.0 88.9 L157.5 88.9 L157.0 88.9 L156.5 88.9 L156.0 88.9 L155.5 88.9 L155.0 88.9 L154.5 88.9 L154.0 88.9 L153.5 88.9 L153.0 88.9 L152.5 88.9 L152.0 88.9 L151.5 88.9 L151.0 88.9 L150.5 88.9 L150.0 88.9 L149.5 88.9 L149.0 88.9 L148.5 88.9 L148.0 88.9 L147.5 88.9 L147.0 88.9 L146.5 88.9 L146.0 88.9 L145.5 88.9 L145.0 88.9 L144.5 88.9 L144.0 88.9 L143.5 88.9 L143.0 88.9 L142.5 88.9 L142.0 88.9 L141.5 88.9 L141.0 88.9 L140.5 88.9 L140.0 88.9 L139.5 88.9 L139.0 88.9 L138.5 88.9 L138.0 88.9 L137.5 88.9 L137.0 88.9 L136.5 88.9 L136.0 88.9 L135.5 88.9 L135.0 88.9 L134.5 88.9 L134.0 88.9 L133.5 88.9 L133.0 88.9 L132.5 88.9 L132.0 88.9 L131.5 88.9 L131.0 88.9 L130.5 88.9 L130.0 88.9 L129.5 88.9 L129.0 88.9 L128.5 88.9 L128.0 88.9 L127.5 88.9 L127.0 88.9 L126.5 88.9 L126.0 88.9 L125.5 88.9 L125.0 88.9 L124.5 88.9 L124.0 88.9 L123.5 88.9 L123.0 88.9 L122.5 88.9 L122.0 88.9 L121.5 88.9 L121.0 88.9 L120.5 88.9 L120.0 88.9 L119.5 88.9 L119.0 88.9 L118.5 88.9 L118.0 88.9 L117.5 88.9 L117.0 88.9 L116.5 88.9 L116.0 88.9 L115.5 88.9 L115.0 88.9 L114.5 88.9 L114.0 88.9 L113.5 88.9 L113.0 88.9 L112.5 88.9 L112.0 88.9 L111.5 88.9 L111.0 88.9 L110.5 88.9 L110.0 88.9 L109.5 88.9 L109.0 88.9 L108.5 88.9 L108.0 88.9 L107.5 88.9 L107.0 88.9 L106.5 88.9 L106.0 88.9 L105.5 88.9 L105.0 88.9 L104.5 88.9 L104.0 88.9 L103.5 88.9 L103.0 88.9 L102.5 88.9 L102.0 88.9 L101.5 88.9 L101.0 88.9 L100.5 88.9 L100.0 88.9 L99.5 88.9 L99.0 88.9 L98.5 88.9 L98.0 88.9 L97.5 88.9 L97.0 88.9 L96.5 88.9 L96.0 88.9 L95.5 88.9 L95.0 88.9 L94.5 88.9 L94.0 88.9 L93.5 88.9 L93.0 88.9 L92.5 88.9 L92.0 88.9 L91.5 88.9 L91.0 88.9 L90.5 88.9 L90.0 88.9 L89.5 88.9 L89.0 88.9 L88.5 88.9 L88.0 88.9 L87.5 88.9 L87.0 88.9 L86.5 88.9 L86.0 88.9 L85.5 88.9 L85.0 88.9 L84.5 88.9 L84.0 88.9 L83.5 88.9 L83.0 88.9 L82.5 88.9 L82.0 88.9 L81.5 88.9 L81.0 88.9 L80.5 88.9 L80.0 88.9 L79.5 88.9 L79.0 88.9 L78.5 88.9 L78.0 88.9 L77.5 88.9 L77.0 88.9 L76.5 88.9 L76.0 88.9 L75.5 88.9 L75.0 88.9 L74.5 88.9 L74.0 88.9 L73.5 88.9 L73.0 88.9 L72.5 88.9 L72.0 88.9 L71.5 88.9 L71.0 88.9 L70.5 88.9 L70.0 88.9 L69.5 88.9 L69.0 88.9 L68.5 88.9 L68.0 88.9 L67.5 88.9 L67.0 88.9 L66.5 88.9 L66.0 88.9 L65.5 88.9 L65.0 88.9 L64.5 88.9 L64.0 88.9 L63.5 88.9 L63.0 88.9 L62.5 88.9 L62.0 88.9 L61.5 88.9 L61.0 88.9 L60.5 88.9 L60.0 88.9 L59.5 88.9 L59.0 88.9 L58.5 88.9 L58.0 88.9 L57.5 88.9 L57.0 88.9 L56.5 88.9 L56.0 88.9 L55.5 88.9 L55.0 88.9 L54.5 88.9 L54.0 88.9 L53.5 88.9 L53.0 88.9 L52.5 88.9 L52.0 88.9 L51.5 88.9 L51.0 88.9Z" fill="#ff0000" fill-opacity="0.40" stroke="#ff0000" stroke-opacity="0.45" stroke-width="0.7"/>
<path d="M51.0 82.4 L51.5 82.4 L52.0 82.4 L52.5 82.4 L53.0 82.4 L53.5 82.4 L54.0 82.4 L54.5 82.4 L55.0 82.4 L55.5 82.4 L56.0 82.4 L56.5 82.4 L57.0 82.4 L57.5 82.4 L58.0 82.4 L58.5 82.4 L59.0 82.4 L59.5 82.4 L60.0 82.4 L60.5 82.4 L61.0 82.4 L61.5 82.4 L62.0 82.4 L62.5 82.4 L63.0 82.4 L63.5 82.4 L64.0 82.4 L64.5 82.4 L65.0 82.4 L65.5 82.4 L66.0 82.4 L66.5 82.4 L67.0 82.4 L67.5 82.4 L68.0 82.4 L68.5 82.4 L69.0 82.4 L69.5 82.4 L70.0 82.4 L70.5 82.4 L71.0 82.4 L71.5 82.4 L72.0 82.4 L72.5 82.4 L73.0 82.4 L73.5 82.4 L74.0 82.4 L74.5 82.4 L75.0 82.4 L75.5 82.4 L76.0 82.4 L76.5 82.4 L77.0 82.4 L77.5 82.4 L78.0 82.4 L78.5 82.4 L79.0 82.4 L79.5 82.4 L80.0 82.4 L80.5 82.4 L81.0 82.4 L81.5 82.4 L82.0 82.4 L82.5 82.4 L83.0 82.4 L83.5 82.4 L84.0 82.4 L84.5 82.4 L85.0 82.4 L85.5 82.4 L86.0 82.4 L86.5 82.4 L87.0 82.4 L87.5 82.4 L88.0 82.4 L88.5 82.4 L89.0 82.4 L89.5 82.4 L90.0 82.4 L90.5 82.4 L91.0 82.4 L91.5 82.4 L92.0 82.4 L92.5 82.4 L93.0 82.4 L93.5 82.4 L94.0 82.4 L94.5 82.4 L95.0 82.4 L95.5 82.4 L96.0 82.4 L96.5 82.4 L97.0 82.4 L97.5 82.4 L98.0 82.4 L98.5 82.4 L99.0 82.4 L99.5 82.4 L100.0 82.4 L100.5 82.4 L101.0 82.4 L101.5 82.4 L102.0 82.4 L102.5 82.4 L103.0 82.4 L103.5 82.4 L104.0 82.4 L104.5 82.4 L105.0 82.4 L105.5 82.4 L106.0 82.4 L106.5 82.4 L107.0 82.4 L107.5 82.4 L108.0 82.4 L108.5 82.4 L109.0 82.4 L109.5 82.4 L110.0 82.4 L110.5 82.4 L111.0 82.4 L111.5 82.4 L112.0 82.4 L112.5 82.4 L113.0 82.4 L113.5 82.4 L114.0 82.4 L114.5 82.4 L115.0 82.4 L115.5 82.4 L116.0 82.4 L116.5 82.4 L117.0 82.4 L117.5 82.4 L118.0 82.4 L118.5 82.4 L119.0 82.4 L119.5 82.4 L120.0 82.4 L120.5 82.4 L121.0 82.4 L121.5 82.4 L122.0 82.4 L122.5 82.4 L123.0 82.4 L123.5 82.4 L124.0 82.4 L124.5 82.4 L125.0 82.4 L125.5 82.4 L126.0 82.4 L126.5 82.4 L127.0 82.4 L127.5 82.4 L128.0 82.4 L128.5 82.4 L129.0 82.4 L129.5 82.4 L130.0 82.4 L130.5 82.4 L131.0 82.4 L131.5 82.4 L132.0 82.4 L132.5 82.4 L133.0 82.4 L133.5 82.4 L134.0 82.4 L134.5 82.4 L135.0 82.4 L135.5 82.4 L136.0 82.4 L136.5 82.4 L137.0 82.4 L137.5 82.4 L138.0 82.4 L138.5 82.4 L139.0 82.4 L139.5 82.4 L140.0 82.4 L140.5 82.4 L141.0 82.4 L141.5 82.4 L142.0 82.4 L142.5 82.4 L143.0 82.4 L143.5 82.4 L144.0 82.4 L144.5 82.4 L145.0 82.4 L145.5 82.4 L146.0 82.4 L146.5 82.4 L147.0 82.4 L147.5 82.4 L148.0 82.4 L148.5 82.4 L149.0 82.4 L149.5 82.4 L150.0 82.4 L150.5 82.4 L151.0 82.4 L151.5 82.4 L152.0 82.4 L152.5 82.4 L153.0 82.4 L153.5 82.4 L154.0 82.4 L154.5 82.4 L155.0 82.4 L155.5 82.4 L156.0 82.4 L156.5 82.4 L157.0 82.4 L157.5 82.4 L158.0 82.4 L158.5 82.4 L159.0 82.4 L159.5 82.4 L160.0 82.4 L160.5 82.4 L161.0 82.4 L161.5 82.4 L162.0 82.4 L162.5 82.4 L163.0 82.4 L163.5 82.4 L164.0 82.4 L164.5 82.4 L165.0 82.4 L165.5 82.4 L166.0 82.4 L166.5 82.4 L167.0 82.4 L167.5 82.4 L168.0 82.4 L168.5 82.4 L169.0 82.4 L169.5 82.4 L170.0 82.4 L170.5 82.4 L171.0 82.4 L171.5 82.4 L172.0 82.4 L172.5 82.4 L173.0 82.4 L173.5 82.4 L174.0 82.4 L174.5 82.4 L175.0 82.4 L175.5 82.4 L176.0 82.4 L176.5 82.5 L177.0 82.5 L177.5 82.5 L178.0 82.5 L178.5 82.5 L179.0 82.5 L179.5 82.5 L180.0 82.5 L180.5 82.5 L181.0 82.5 L181.5 82.5 L182.0 82.5 L182.5 82.5 L183.0 82.5 L183.5 82.5 L184.0 82.5 L184.5 82.5 L185.0 82.5 L185.5 82.5 L186.0 82.5 L186.5 82.5 L187.0 82.5 L187.5 82.5 L188.0 82.5 L188.5 82.5 L189.0 82.5 L189.5 82.5 L190.0 82.5 L190.5 82.5 L191.0 82.5 L191.5 82.5 L192.0 82.5 L192.5 82.5 L193.0 82.5 L193.5 82.5 L194.0 82.5 L194.5 82.5 L195.0 82.5 L195.5 82.5 L196.0 82.5 L196.5 82.5 L197.0 82.5 L197.5 82.5 L198.0 82.5 L198.5 82.5 L199.0 82.5 L199.5 82.5 L200.0 82.5 L200.5 82.5 L201.0 82.5 L201.5 82.5 L202.0 82.5 L202.5 82.5 L203.0 82.5 L203.5 82.5 L204.0 82.5 L204.5 82.5 L205.0 82.5 L205.5 82.5 L206.0 82.5 L206.5 82.5 L207.0 82.5 L207.5 82.5 L208.0 82.5 L208.5 82.6 L209.0 82.6 L209.5 82.6 L210.0 82.6 L210.5 82.6 L211.0 82.6 L211.5 82.6 L212.0 82.6 L212.5 82.6 L213.0 82.6 L213.5 82.6 L214.0 82.6 L214.5 82.6 L215.0 82.6 L215.5 82.6 L216.0 82.6 L216.5 82.6 L217.0 82.6 L217.5 82.6 L218.0 82.6 L218.5 82.6 L219.0 82.6 L219.5 82.7 L220.0 82.7 L220.5 82.7 L221.0 82.7 L221.5 82.7 L222.0 82.7 L222.5 82.7 L223.0 82.7 L223.5 82.7 L224.0 82.7 L224.5 82.7 L225.0 82.7 L225.5 82.7 L226.0 82.7 L226.5 82.8 L227.0 82.8 L227.5 82.8 L228.0 82.8 L228.5 82.8 L229.0 82.8 L229.5 82.8 L230.0 82.8 L230.5 82.8 L231.0 82.8 L231.5 82.9 L232.0 82.9 L232.5 82.9 L233.0 82.9 L233.5 82.9 L234.0 82.9 L234.5 82.9 L235.0 82.9 L235.5 82.9 L236.0 83.0 L236.5 83.0 L237.0 83.0 L237.5 83.0 L238.0 83.0 L238.5 83.0 L239.0 83.1 L239.5 83.1 L240.0 83.1 L240.5 83.1 L241.0 83.1 L241.5 83.1 L242.0 83.2 L242.5 83.2 L243.0 83.2 L243.5 83.2 L244.0 83.2 L244.5 83.3 L245.0 83.3 L245.5 83.3 L246.0 83.3 L246.5 83.4 L247.0 83.4 L247.5 83.4 L248.0 83.4 L248.5 83.5 L249.0 83.5 L249.5 83.5 L250.0 83.5 L250.5 83.6 L251.0 83.6 L251.5 83.6 L252.0 83.7 L252.5 83.7 L253.0 83.7 L253.5 83.8 L254.0 83.8 L254.5 83.8 L255.0 83.9 L255.5 83.9 L256.0 83.9 L256.5 84.0 L257.0 84.0 L257.5 84.1 L258.0 84.1 L258.5 84.2 L259.0 84.2 L259.5 84.2 L260.0 84.3 L260.5 84.3 L261.0 84.4 L261.5 84.4 L262.0 84.5 L262.5 84.6 L263.0 84.6 L263.5 84.7 L264.0 84.7 L264.5 84.8 L265.0 84.9 L265.5 84.9 L266.0 85.0 L266.5 85.1 L267.0 85.2 L267.5 85.2 L268.0 85.3 L268.5 85.4 L269.0 85.5 L269.5 85.6 L270.0 85.7 L270.5 85.8 L271.0 85.8 L271.5 85.9 L272.0 86.0 L272.5 86.1 L273.0 86.2 L273.5 86.3 L274.0 86.4 L274.5 86.5 L275.0 86.6 L275.5 86.7 L276.0 86.8 L276.5 86.9 L277.0 87.1 L277.5 87.2 L278.0 87.3 L278.5 87.4 L279.0 87.5 L279.5 87.7 L280.0 87.8 L280.5 87.9 L281.0 88.1 L281.5 88.2 L282.0 88.4 L282.5 88.5 L283.0 88.7 L283.5 88.8 L284.0 89.0 L284.5 89.2 L285.0 89.3 L285.5 89.5 L286.0 89.7 L286.5 89.9 L287.0 90.1 L287.5 90.2 L288.0 90.4 L288.5 90.6 L289.0 90.8 L289.5 91.0 L290.0 91.2 L290.5 91.4 L291.0 91.6 L291.5 91.8 L292.0 91.9 L292.5 92.1 L293.0 92.3 L293.5 92.5 L294.0 92.7 L294.5 92.9 L295.0 93.1 L295.5 93.3 L296.0 93.5 L296.5 93.7 L297.0 94.0 L297.5 94.2 L298.0 94.4 L298.5 94.6 L299.0 94.9 L299.5 95.1 L300.0 95.4 L300.5 95.7 L301.0 95.9 L301.5 96.2 L302.0 96.5 L302.5 96.8 L303.0 97.1 L303.5 97.5 L304.0 97.8 L304.5 98.1 L305.0 98.5 L305.5 98.8 L306.0 99.2 L306.5 99.6 L307.0 100.0 L307.5 100.4 L308.0 100.8 L308.5 101.2 L309.0 101.6 L309.5 102.0 L310.0 102.5 L310.5 102.9 L311.0 103.4 L311.5 103.9 L312.0 104.3 L312.5 104.8 L313.0 105.4 L313.5 105.9 L314.0 106.4 L314.5 106.9 L315.0 107.5 L315.5 108.1 L316.0 108.6 L316.5 109.2 L317.0 109.8 L317.5 110.4 L318.0 111.1 L318.5 111.7 L319.0 112.4 L319.5 113.0 L320.0 113.7 L320.5 114.4 L321.0 115.1 L321.5 115.8 L322.0 116.6 L322.5 117.3 L323.0 118.1 L323.5 118.9 L324.0 119.7 L324.5 120.5 L325.0 121.3 L325.5 122.1 L326.0 122.9 L326.5 123.8 L327.0 124.7 L327.5 125.5 L328.0 126.4 L328.5 127.3 L329.0 128.3 L329.5 129.2 L330.0 130.1 L330.5 131.1 L331.0 132.0 L331.5 133.0 L332.0 134.0 L332.5 135.0 L333.0 135.9 L333.5 136.9 L334.0 137.9 L334.5 138.9 L335.0 140.0 L335.5 141.0 L336.0 142.0 L336.5 143.0 L337.0 144.0 L337.5 145.1 L338.0 146.1 L338.5 147.1 L339.0 148.2 L339.5 149.2 L340.0 150.3 L340.5 151.3 L341.0 152.4 L341.5 153.5 L342.0 154.5 L342.5 155.6 L343.0 156.7 L343.5 157.8 L344.0 158.9 L344.5 160.0 L345.0 161.2 L345.5 162.3 L346.0 163.4 L346.5 164.6 L347.0 165.8 L347.5 166.9 L348.0 168.1 L348.5 169.3 L349.0 170.5 L349.5 171.7 L350.0 172.9 L350.5 174.1 L351.0 175.3 L351.5 176.6 L352.0 177.8 L352.5 179.0 L353.0 180.3 L353.5 181.5 L354.0 182.8 L354.5 184.1 L355.0 185.3 L355.5 186.6 L356.0 187.9 L356.5 189.2 L357.0 190.4 L357.5 191.7 L358.0 193.0 L358.5 194.2 L359.0 195.5 L359.5 196.7 L360.0 198.0 L360.5 199.2 L361.0 200.4 L361.5 201.6 L362.0 202.8 L362.5 204.0 L363.0 205.2 L363.5 206.3 L364.0 207.4 L364.5 208.6 L365.0 209.7 L365.5 210.7 L366.0 211.8 L366.5 212.9 L367.0 213.9 L367.5 215.0 L368.0 216.0 L368.5 217.0 L369.0 218.0 L369.5 219.1 L370.0 220.1 L370.5 221.1 L371.0 222.1 L371.5 223.1 L372.0 224.1 L372.5 225.2 L373.0 226.2 L373.5 227.2 L374.0 228.2 L374.5 229.3 L375.0 230.3 L375.5 231.3 L376.0 232.3 L376.5 233.2 L377.0 234.2 L377.5 235.1 L378.0 236.1 L378.5 237.0 L379.0 237.9 L379.5 238.7 L380.0 239.6 L380.5 240.4 L381.0 241.1 L381.5 241.9 L382.0 242.6 L382.5 243.3 L383.0 243.9 L383.5 244.6 L384.0 245.2 L384.5 245.7 L385.0 246.3 L385.5 246.8 L386.0 247.3 L386.5 247.7 L387.0 248.2 L387.5 248.6 L388.0 249.0 L388.5 249.4 L389.0 249.8 L389.5 250.1 L390.0 250.5 L390.5 250.8 L391.0 251.1 L391.5 251.4 L392.0 251.6 L392.5 251.9 L393.0 252.1 L393.5 252.4 L394.0 252.6 L394.5 252.8 L395.0 253.0 L395.5 253.2 L396.0 253.4 L396.5 253.5 L397.0 253.7 L397.5 253.8 L398.0 254.0 L398.5 254.1 L399.0 254.2 L399.5 254.3 L400.0 254.4 L400.5 254.5 L401.0 254.6 L401.5 254.7 L402.0 254.8 L402.5 254.9 L403.0 254.9 L403.5 255.0 L404.0 255.1 L404.5 255.1 L405.0 255.2 L405.5 255.2 L406.0 255.3 L406.5 255.3 L407.0 255.3 L407.5 255.4 L408.0 255.4 L408.5 255.4 L409.0 255.5 L409.5 255.5 L410.0 255.5 L410.5 255.5 L411.0 255.6 L411.5 255.6 L412.0 255.6 L412.5 255.6 L413.0 255.6 L413.5 255.6 L414.0 255.6 L414.5 255.7 L415.0 255.7 L415.5 255.7 L416.0 255.7 L416.5 255.7 L417.0 255.7 L417.5 255.7 L418.0 255.7 L418.5 255.7 L419.0 255.8 L419.5 255.8 L420.0 255.8 L420.5 255.8 L421.0 255.8 L421.5 255.8 L422.0 255.8 L422.5 255.8 L423.0 255.8 L423.5 255.8 L424.0 255.8 L424.5 255.9 L425.0 255.9 L425.5 255.9 L426.0 255.9 L426.5 255.9 L427.0 255.9" fill="none" stroke="#ff0000" stroke-width="1.4" stroke-linejoin="round" stroke-linecap="square"/>
<path d="M51.0 111.7 L51.5 111.7 L52.0 111.7 L52.5 111.7 L53.0 111.7 L53.5 111.7 L54.0 111.7 L54.5 111.7 L55.0 111.7 L55.5 111.7 L56.0 111.7 L56.5 111.7 L57.0 111.7 L57.5 111.7 L58.0 111.7 L58.5 111.7 L59.0 111.7 L59.5 111.7 L60.0 111.7 L60.5 111.7 L61.0 111.7 L61.5 111.7 L62.0 111.7 L62.5 111.7 L63.0 111.7 L63.5 111.7 L64.0 111.7 L64.5 111.7 L65.0 111.7 L65.5 111.7 L66.0 111.7 L66.5 111.7 L67.0 111.7 L67.5 111.7 L68.0 111.7 L68.5 111.7 L69.0 111.7 L69.5 111.7 L70.0 111.7 L70.5 111.7 L71.0 111.7 L71.5 111.7 L72.0 111.7 L72.5 111.7 L73.0 111.7 L73.5 111.7 L74.0 111.7 L74.5 111.7 L75.0 111.7 L75.5 111.7 L76.0 111.7 L76.5 111.7 L77.0 111.7 L77.5 111.7 L78.0 111.7 L78.5 111.7 L79.0 111.7 L79.5 111.7 L80.0 111.7 L80.5 111.7 L81.0 111.7 L81.5 111.7 L82.0 111.7 L82.5 111.7 L83.0 111.7 L83.5 111.7 L84.0 111.7 L84.5 111.7 L85.0 111.7 L85.5 111.7 L86.0 111.7 L86.5 111.7 L87.0 111.7 L87.5 111.7 L88.0 111.7 L88.5 111.7 L89.0 111.7 L89.5 111.7 L90.0 111.7 L90.5 111.7 L91.0 111.7 L91.5 111.7 L92.0 111.7 L92.5 111.7 L93.0 111.7 L93.5 111.7 L94.0 111.7 L94.5 111.7 L95.0 111.7 L95.5 111.7 L96.0 111.7 L96.5 111.7 L97.0 111.7 L97.5 111.7 L98.0 111.7 L98.5 111.7 L99.0 111.7 L99.5 111.7 L100.0 111.7 L100.5 111.7 L101.0 111.7 L101.5 111.7 L102.0 111.7 L102.5 111.8 L103.0 111.8 L103.5 111.8 L104.0 111.8 L104.5 111.8 L105.0 111.8 L105.5 111.8 L106.0 111.8 L106.5 111.8 L107.0 111.8 L107.5 111.8 L108.0 111.8 L108.5 111.8 L109.0 111.8 L109.5 111.8 L110.0 111.8 L110.5 111.8 L111.0 111.8 L111.5 111.8 L112.0 111.8 L112.5 111.8 L113.0 111.8 L113.5 111.8 L114.0 111.8 L114.5 111.8 L115.0 111.8 L115.5 111.8 L116.0 111.8 L116.5 111.8 L117.0 111.8 L117.5 111.8 L118.0 111.8 L118.5 111.8 L119.0 111.8 L119.5 111.8 L120.0 111.8 L120.5 111.8 L121.0 111.8 L121.5 111.8 L122.0 111.8 L122.5 111.8 L123.0 111.8 L123.5 111.8 L124.0 111.8 L124.5 111.8 L125.0 111.8 L125.5 111.8 L126.0 111.8 L126.5 111.8 L127.0 111.8 L127.5 111.8 L128.0 111.8 L128.5 111.8 L129.0 111.8 L129.5 111.8 L130.0 111.8 L130.5 111.8 L131.0 111.8 L131.5 111.8 L132.0 111.8 L132.5 111.8 L133.0 111.8 L133.5 111.8 L134.0 111.8 L134.5 111.8 L135.0 111.8 L135.5 111.8 L136.0 111.8 L136.5 111.8 L137.0 111.8 L137.5 111.8 L138.0 111.8 L138.5 111.8 L139.0 111.8 L139.5 111.8 L140.0 111.8 L140.5 111.8 L141.0 111.8 L141.5 111.8 L142.0 111.8 L142.5 111.8 L143.0 111.8 L143.5 111.8 L144.0 111.8 L144.5 111.8 L145.0 111.8 L145.5 111.8 L146.0 111.8 L146.5 111.8 L147.0 111.8 L147.5 111.8 L148.0 111.8 L148.5 111.8 L149.0 111.8 L149.5 111.8 L150.0 111.8 L150.5 111.8 L151.0 111.8 L151.5 111.8 L152.0 111.8 L152.5 111.8 L153.0 111.8 L153.5 111.8 L154.0 111.8 L154.5 111.8 L155.0 111.8 L155.5 111.8 L156.0 111.8 L156.5 111.8 L157.0 111.8 L157.5 111.8 L158.0 111.9 L158.5 111.9 L159.0 111.9 L159.5 111.9 L160.0 111.9 L160.5 111.9 L161.0 111.9 L161.5 111.9 L162.0 111.9 L162.5 111.9 L163.0 111.9 L163.5 111.9 L164.0 111.9 L164.5 111.9 L165.0 111.9 L165.5 111.9 L166.0 111.9 L166.5 111.9 L167.0 111.9 L167.5 111.9 L168.0 111.9 L168.5 111.9 L169.0 111.9 L169.5 111.9 L170.0 111.9 L170.5 111.9 L171.0 111.9 L171.5 111.9 L172.0 111.9 L172.5 111.9 L173.0 111.9 L173.5 111.9 L174.0 111.9 L174.5 111.9 L175.0 111.9 L175.5 111.9 L176.0 111.9 L176.5 111.9 L177.0 111.9 L177.5 111.9 L178.0 111.9 L178.5 111.9 L179.0 111.9 L179.5 111.9 L180.0 111.9 L180.5 111.9 L181.0 111.9 L181.5 111.9 L182.0 111.9 L182.5 111.9 L183.0 111.9 L183.5 111.9 L184.0 111.9 L184.5 111.9 L185.0 111.9 L185.5 111.9 L186.0 111.9 L186.5 111.9 L187.0 111.9 L187.5 111.9 L188.0 111.9 L188.5 111.9 L189.0 111.9 L189.5 111.9 L190.0 111.9 L190.5 111.9 L191.0 111.9 L191.5 111.9 L192.0 111.9 L192.5 111.9 L193.0 111.9 L193.5 111.9 L194.0 111.9 L194.5 111.9 L195.0 111.9 L195.5 111.9 L196.0 111.9 L196.5 111.9 L197.0 111.9 L197.5 111.9 L198.0 111.9 L198.5 111.9 L199.0 111.9 L199.5 111.9 L200.0 111.9 L200.5 111.9 L201.0 111.9 L201.5 111.9 L202.0 111.9 L202.5 111.9 L203.0 111.9 L203.5 111.9 L204.0 111.9 L204.5 111.9 L205.0 111.9 L205.5 111.9 L206.0 111.9 L206.5 111.9 L207.0 111.9 L207.5 111.9 L208.0 111.9 L208.5 111.9 L209.0 111.9 L209.5 111.9 L210.0 111.9 L210.5 111.9 L211.0 111.9 L211.5 111.9 L212.0 111.9 L212.5 111.9 L213.0 111.9 L213.5 111.9 L214.0 111.9 L214.5 111.9 L215.0 111.9 L215.5 111.9 L216.0 111.9 L216.5 111.9 L217.0 111.9 L217.5 111.9 L218.0 111.9 L218.5 111.9 L219.0 111.9 L219.5 111.9 L220.0 111.9 L220.5 111.9 L221.0 111.9 L221.5 111.9 L222.0 111.9 L222.5 111.9 L223.0 111.9 L223.5 111.9 L224.0 111.9 L224.5 111.9 L225.0 111.9 L225.5 111.9 L226.0 111.9 L226.5 111.9 L227.0 111.9 L227.5 111.9 L228.0 111.9 L228.5 112.0 L229.0 112.0 L229.5 112.0 L230.0 112.0 L230.5 112.0 L231.0 112.0 L231.5 112.0 L232.0 112.0 L232.5 112.0 L233.0 112.0 L233.5 112.0 L234.0 112.0 L234.5 112.0 L235.0 112.0 L235.5 112.0 L236.0 112.0 L236.5 112.0 L237.0 112.1 L237.5 112.1 L238.0 112.1 L238.5 112.1 L239.0 112.1 L239.5 112.1 L240.0 112.1 L240.5 112.1 L241.0 112.1 L241.5 112.1 L242.0 112.2 L242.5 112.2 L243.0 112.2 L243.5 112.2 L244.0 112.2 L244.5 112.2 L245.0 112.2 L245.5 112.2 L246.0 112.3 L246.5 112.3 L247.0 112.3 L247.5 112.3 L248.0 112.3 L248.5 112.3 L249.0 112.4 L249.5 112.4 L250.0 112.4 L250.5 112.4 L251.0 112.4 L251.5 112.5 L252.0 112.5 L252.5 112.5 L253.0 112.5 L253.5 112.5 L254.0 112.6 L254.5 112.6 L255.0 112.6 L255.5 112.7 L256.0 112.7 L256.5 112.7 L257.0 112.7 L257.5 112.8 L258.0 112.8 L258.5 112.8 L259.0 112.9 L259.5 112.9 L260.0 112.9 L260.5 113.0 L261.0 113.0 L261.5 113.1 L262.0 113.1 L262.5 113.2 L263.0 113.2 L263.5 113.3 L264.0 113.3 L264.5 113.4 L265.0 113.4 L265.5 113.5 L266.0 113.6 L266.5 113.6 L267.0 113.7 L267.5 113.8 L268.0 113.8 L268.5 113.9 L269.0 114.0 L269.5 114.1 L270.0 114.2 L270.5 114.2 L271.0 114.3 L271.5 114.4 L272.0 114.5 L272.5 114.6 L273.0 114.6 L273.5 114.7 L274.0 114.8 L274.5 114.9 L275.0 115.0 L275.5 115.1 L276.0 115.2 L276.5 115.3 L277.0 115.3 L277.5 115.4 L278.0 115.5 L278.5 115.6 L279.0 115.7 L279.5 115.8 L280.0 115.9 L280.5 116.0 L281.0 116.2 L281.5 116.3 L282.0 116.4 L282.5 116.5 L283.0 116.6 L283.5 116.7 L284.0 116.9 L284.5 117.0 L285.0 117.1 L285.5 117.3 L286.0 117.4 L286.5 117.6 L287.0 117.7 L287.5 117.8 L288.0 118.0 L288.5 118.1 L289.0 118.3 L289.5 118.4 L290.0 118.6 L290.5 118.8 L291.0 118.9 L291.5 119.1 L292.0 119.2 L292.5 119.4 L293.0 119.6 L293.5 119.7 L294.0 119.9 L294.5 120.1 L295.0 120.3 L295.5 120.5 L296.0 120.7 L296.5 120.9 L297.0 121.1 L297.5 121.3 L298.0 121.5 L298.5 121.7 L299.0 121.9 L299.5 122.2 L300.0 122.4 L300.5 122.6 L301.0 122.9 L301.5 123.2 L302.0 123.4 L302.5 123.7 L303.0 124.0 L303.5 124.3 L304.0 124.6 L304.5 124.9 L305.0 125.3 L305.5 125.6 L306.0 125.9 L306.5 126.3 L307.0 126.6 L307.5 127.0 L308.0 127.4 L308.5 127.8 L309.0 128.2 L309.5 128.6 L310.0 129.0 L310.5 129.5 L311.0 129.9 L311.5 130.4 L312.0 130.8 L312.5 131.3 L313.0 131.8 L313.5 132.3 L314.0 132.8 L314.5 133.3 L315.0 133.8 L315.5 134.4 L316.0 134.9 L316.5 135.5 L317.0 136.0 L317.5 136.6 L318.0 137.2 L318.5 137.8 L319.0 138.4 L319.5 139.0 L320.0 139.6 L320.5 140.2 L321.0 140.9 L321.5 141.5 L322.0 142.2 L322.5 142.8 L323.0 143.5 L323.5 144.1 L324.0 144.8 L324.5 145.4 L325.0 146.1 L325.5 146.7 L326.0 147.4 L326.5 148.0 L327.0 148.7 L327.5 149.3 L328.0 150.0 L328.5 150.6 L329.0 151.3 L329.5 151.9 L330.0 152.6 L330.5 153.2 L331.0 153.9 L331.5 154.6 L332.0 155.3 L332.5 156.0 L333.0 156.7 L333.5 157.4 L334.0 158.2 L334.5 158.9 L335.0 159.7 L335.5 160.6 L336.0 161.4 L336.5 162.3 L337.0 163.2 L337.5 164.1 L338.0 165.0 L338.5 165.9 L339.0 166.9 L339.5 167.9 L340.0 168.9 L340.5 169.9 L341.0 170.9 L341.5 171.9 L342.0 172.9 L342.5 173.9 L343.0 174.9 L343.5 175.9 L344.0 176.8 L344.5 177.8 L345.0 178.8 L345.5 179.7 L346.0 180.6 L346.5 181.5 L347.0 182.4 L347.5 183.3 L348.0 184.2 L348.5 185.1 L349.0 185.9 L349.5 186.8 L350.0 187.7 L350.5 188.5 L351.0 189.4 L351.5 190.3 L352.0 191.1 L352.5 192.0 L353.0 192.9 L353.5 193.8 L354.0 194.7 L354.5 195.6 L355.0 196.5 L355.5 197.4 L356.0 198.3 L356.5 199.3 L357.0 200.2 L357.5 201.2 L358.0 202.1 L358.5 203.1 L359.0 204.1 L359.5 205.0 L360.0 206.0 L360.5 206.9 L361.0 207.9 L361.5 208.9 L362.0 209.8 L362.5 210.8 L363.0 211.7 L363.5 212.6 L364.0 213.6 L364.5 214.5 L365.0 215.4 L365.5 216.3 L366.0 217.2 L366.5 218.1 L367.0 219.0 L367.5 219.9 L368.0 220.8 L368.5 221.7 L369.0 222.6 L369.5 223.6 L370.0 224.5 L370.5 225.4 L371.0 226.3 L371.5 227.3 L372.0 228.2 L372.5 229.1 L373.0 230.1 L373.5 231.1 L374.0 232.0 L374.5 233.0 L375.0 233.9 L375.5 234.9 L376.0 235.8 L376.5 236.8 L377.0 237.7 L377.5 238.6 L378.0 239.4 L378.5 240.3 L379.0 241.1 L379.5 241.9 L380.0 242.7 L380.5 243.4 L381.0 244.1 L381.5 244.8 L382.0 245.4 L382.5 246.0 L383.0 246.5 L383.5 247.1 L384.0 247.6 L384.5 248.0 L385.0 248.5 L385.5 248.9 L386.0 249.3 L386.5 249.6 L387.0 250.0 L387.5 250.3 L388.0 250.6 L388.5 250.9 L389.0 251.2 L389.5 251.4 L390.0 251.7 L390.5 251.9 L391.0 252.1 L391.5 252.4 L392.0 252.6 L392.5 252.8 L393.0 253.0 L393.5 253.1 L394.0 253.3 L394.5 253.5 L395.0 253.6 L395.5 253.8 L396.0 253.9 L396.5 254.0 L397.0 254.1 L397.5 254.3 L398.0 254.4 L398.5 254.5 L399.0 254.6 L399.5 254.7 L400.0 254.7 L400.5 254.8 L401.0 254.9 L401.5 255.0 L402.0 255.0 L402.5 255.1 L403.0 255.1 L403.5 255.2 L404.0 255.2 L404.5 255.3 L405.0 255.3 L405.5 255.4 L406.0 255.4 L406.5 255.4 L407.0 255.5 L407.5 255.5 L408.0 255.5 L408.5 255.5 L409.0 255.6 L409.5 255.6 L410.0 255.6 L410.5 255.6 L411.0 255.6 L411.5 255.6 L412.0 255.6 L412.5 255.7 L413.0 255.7 L413.5 255.7 L414.0 255.7 L414.5 255.7 L415.0 255.7 L415.5 255.7 L416.0 255.7 L416.5 255.7 L417.0 255.7 L417.5 255.7 L418.0 255.7 L418.5 255.8 L419.0 255.8 L419.5 255.8 L420.0 255.8 L420.5 255.8 L421.0 255.8 L421.5 255.8 L422.0 255.8 L422.5 255.8 L423.0 255.8 L423.5 255.8 L424.0 255.8 L424.5 255.8 L425.0 255.8 L425.5 255.9 L426.0 255.9 L426.5 255.9 L427.0 255.9" fill="none" stroke="#0000ff" stroke-width="1.45" stroke-linejoin="round" stroke-linecap="square"/>
<rect x="43.3" y="18.3" width="391.9" height="242.25" fill="none" stroke="#000" stroke-width="1.5"/>
<path d="M50.9 260.55 v-2.0 M50.9 18.3 v2.0 M77.2 260.55 v-1.5 M77.2 18.3 v1.5 M92.6 260.55 v-1.5 M92.6 18.3 v1.5 M103.5 260.55 v-1.5 M103.5 18.3 v1.5 M111.9 260.55 v-1.5 M111.9 18.3 v1.5 M118.8 260.55 v-1.5 M118.8 18.3 v1.5 M124.7 260.55 v-1.5 M124.7 18.3 v1.5 M129.7 260.55 v-1.5 M129.7 18.3 v1.5 M134.2 260.55 v-1.5 M134.2 18.3 v1.5 M138.2 260.55 v-2.0 M138.2 18.3 v2.0 M164.5 260.55 v-1.5 M164.5 18.3 v1.5 M179.9 260.55 v-1.5 M179.9 18.3 v1.5 M190.8 260.55 v-1.5 M190.8 18.3 v1.5 M199.2 260.55 v-1.5 M199.2 18.3 v1.5 M206.1 260.55 v-1.5 M206.1 18.3 v1.5 M212.0 260.55 v-1.5 M212.0 18.3 v1.5 M217.0 260.55 v-1.5 M217.0 18.3 v1.5 M221.5 260.55 v-1.5 M221.5 18.3 v1.5 M225.5 260.55 v-2.0 M225.5 18.3 v2.0 M251.8 260.55 v-1.5 M251.8 18.3 v1.5 M267.2 260.55 v-1.5 M267.2 18.3 v1.5 M278.1 260.55 v-1.5 M278.1 18.3 v1.5 M286.5 260.55 v-1.5 M286.5 18.3 v1.5 M293.4 260.55 v-1.5 M293.4 18.3 v1.5 M299.3 260.55 v-1.5 M299.3 18.3 v1.5 M304.3 260.55 v-1.5 M304.3 18.3 v1.5 M308.8 260.55 v-1.5 M308.8 18.3 v1.5 M312.8 260.55 v-2.0 M312.8 18.3 v2.0 M339.1 260.55 v-1.5 M339.1 18.3 v1.5 M354.5 260.55 v-1.5 M354.5 18.3 v1.5 M365.4 260.55 v-1.5 M365.4 18.3 v1.5 M373.8 260.55 v-1.5 M373.8 18.3 v1.5 M380.7 260.55 v-1.5 M380.7 18.3 v1.5 M386.6 260.55 v-1.5 M386.6 18.3 v1.5 M391.6 260.55 v-1.5 M391.6 18.3 v1.5 M396.1 260.55 v-1.5 M396.1 18.3 v1.5 M400.1 260.55 v-2.0 M400.1 18.3 v2.0 M43.3 255.7 h2.0 M435.2 255.7 h-2.0 M43.3 248.0 h1.5 M435.2 248.0 h-1.5 M43.3 240.2 h1.5 M435.2 240.2 h-1.5 M43.3 232.5 h1.5 M435.2 232.5 h-1.5 M43.3 224.7 h1.5 M435.2 224.7 h-1.5 M43.3 217.0 h2.0 M435.2 217.0 h-2.0 M43.3 209.2 h1.5 M435.2 209.2 h-1.5 M43.3 201.5 h1.5 M435.2 201.5 h-1.5 M43.3 193.8 h1.5 M435.2 193.8 h-1.5 M43.3 186.0 h1.5 M435.2 186.0 h-1.5 M43.3 178.3 h2.0 M435.2 178.3 h-2.0 M43.3 170.5 h1.5 M435.2 170.5 h-1.5 M43.3 162.8 h1.5 M435.2 162.8 h-1.5 M43.3 155.0 h1.5 M435.2 155.0 h-1.5 M43.3 147.3 h1.5 M435.2 147.3 h-1.5 M43.3 139.6 h2.0 M435.2 139.6 h-2.0 M43.3 131.8 h1.5 M435.2 131.8 h-1.5 M43.3 124.1 h1.5 M435.2 124.1 h-1.5 M43.3 116.3 h1.5 M435.2 116.3 h-1.5 M43.3 108.6 h1.5 M435.2 108.6 h-1.5 M43.3 100.8 h2.0 M435.2 100.8 h-2.0 M43.3 93.1 h1.5 M435.2 93.1 h-1.5 M43.3 85.4 h1.5 M435.2 85.4 h-1.5 M43.3 77.6 h1.5 M435.2 77.6 h-1.5 M43.3 69.9 h1.5 M435.2 69.9 h-1.5 M43.3 62.1 h2.0 M435.2 62.1 h-2.0 M43.3 54.4 h1.5 M435.2 54.4 h-1.5 M43.3 46.6 h1.5 M435.2 46.6 h-1.5 M43.3 38.9 h1.5 M435.2 38.9 h-1.5 M43.3 31.2 h1.5 M435.2 31.2 h-1.5 M43.3 23.4 h2.0 M435.2 23.4 h-2.0" stroke="#000" stroke-width="0.7" fill="none"/>
<g font-family="'Liberation Sans', sans-serif" font-size="17" fill="#000" style="font-kerning:none">
<text x="32.25" y="260.35">0</text>
<text x="32.25" y="221.63">5</text>
<path d="M24.55 172.77 C26.20 172.77 27.55 172.02 27.90 170.72 L28.95 170.72 L28.95 182.92 L27.35 182.92 L27.35 174.12 L24.55 174.12Z" fill="#000"/><text x="32.25" y="182.92">0</text>
<path d="M24.55 134.05 C26.20 134.05 27.55 133.30 27.90 132.00 L28.95 132.00 L28.95 144.20 L27.35 144.20 L27.35 135.40 L24.55 135.40Z" fill="#000"/><text x="32.25" y="144.20">5</text>
<text x="22.80" y="105.49">20</text>
<text x="22.80" y="66.77">25</text>
<text x="22.80" y="28.06">30</text>
<text x="39.48" y="275.30">0.</text><path d="M55.41 265.15 C57.06 265.15 58.41 264.40 58.76 263.10 L59.81 263.10 L59.81 275.30 L58.21 275.30 L58.21 266.50 L55.41 266.50Z" fill="#000"/>
<path d="M135.62 265.15 C137.27 265.15 138.62 264.40 138.97 263.10 L140.02 263.10 L140.02 275.30 L138.42 275.30 L138.42 266.50 L135.62 266.50Z" fill="#000"/>
<path d="M218.20 265.15 C219.85 265.15 221.20 264.40 221.55 263.10 L222.60 263.10 L222.60 275.30 L221.00 275.30 L221.00 266.50 L218.20 266.50Z" fill="#000"/><text x="225.90" y="275.30">0</text>
<path d="M300.77 265.15 C302.42 265.15 303.77 264.40 304.12 263.10 L305.17 263.10 L305.17 275.30 L303.57 275.30 L303.57 266.50 L300.77 266.50Z" fill="#000"/><text x="308.47" y="275.30">00</text>
<path d="M383.35 265.15 C385.00 265.15 386.35 264.40 386.70 263.10 L387.75 263.10 L387.75 275.30 L386.15 275.30 L386.15 266.50 L383.35 266.50Z" fill="#000"/><text x="391.05" y="275.30">000</text>
</g>
<text transform="matrix(0.9948 0 0 1 75.29 50.30)" font-family="'Liberation Sans', sans-serif" font-size="13.6" fill="#000" style="font-kerning:none">LHC7</text>
<text transform="matrix(0.1168 0 0 0.1345 118.69 49.74)" font-family="'Liberation Serif', serif" font-size="100" fill="#000" style="font-kerning:none">(</text>
<text transform="matrix(0.1305 0 0 0.1424 123.47 50.30)" font-family="'Liberation Serif', serif" font-size="100" fill="#000" style="font-kerning:none">Λ</text>
<text transform="matrix(1.0225 0 0 1 133.52 50.30)" font-family="'Liberation Sans', sans-serif" font-size="13.6" fill="#000" style="font-kerning:none">=500</text>
<text transform="matrix(1.0049 0 0 1 168.71 50.30)" font-family="'Liberation Sans', sans-serif" font-size="13.6" fill="#000" style="font-kerning:none">GeV</text>
<text transform="matrix(0.1246 0 0 0.1345 196.80 49.74)" font-family="'Liberation Serif', serif" font-size="100" fill="#000" style="font-kerning:none">)</text>
<text transform="matrix(0.2072 0 0 0.2117 356.61 50.56)" font-family="'Liberation Sans', sans-serif" font-size="100" font-style="italic" fill="#000" stroke="#fff" stroke-width="2.15" stroke-linejoin="round" style="font-kerning:none">μ</text>
<text transform="matrix(0.2295 0 0 0.1846 367.17 50.88)" font-family="'Liberation Sans', sans-serif" font-size="100" font-style="italic" fill="#000" stroke="#fff" stroke-width="1.69" stroke-linejoin="round" style="font-kerning:none">=</text>
<text transform="matrix(0.2441 0 0 0.2046 380.74 50.25)" font-family="'Liberation Sans', sans-serif" font-size="100" font-style="italic" fill="#000" stroke="#fff" stroke-width="2.23" stroke-linejoin="round" style="font-kerning:none">m</text>
<g fill="none" stroke="#000" stroke-linecap="round" stroke-linejoin="round"><path d="M409.65 47.99 C407.21 50.71 403.73 54.78 400.95 57.31" stroke-width="0.55"/><path d="M401.99 49.35 C402.34 47.99 403.82 47.51 404.43 48.96 C405.30 51.29 406.00 54.20 406.87 56.34 C407.39 57.60 408.43 57.69 408.95 56.34" stroke-width="1.05"/></g>
<g fill="none" stroke="#000" stroke-linecap="round" stroke-linejoin="round"><path d="M419.25 47.99 C416.81 50.71 413.33 54.78 410.55 57.31" stroke-width="0.55"/><path d="M411.59 49.35 C411.94 47.99 413.42 47.51 414.03 48.96 C414.90 51.29 415.60 54.20 416.47 56.34 C416.99 57.60 418.03 57.69 418.55 56.34" stroke-width="1.05"/></g>
<path d="M412.6 45.3 h4.6" stroke="#000" stroke-width="0.9"/>
<text transform="matrix(0.9957 0 0 1 369.75 82.30)" font-family="'Liberation Sans', sans-serif" font-size="18" font-style="italic" fill="#ff0000" style="font-kerning:none">NLO</text>
<text transform="matrix(0.9932 0 0 1 376.15 105.70)" font-family="'Liberation Sans', sans-serif" font-size="18" font-style="italic" fill="#0000ff" style="font-kerning:none">LO</text>
<text transform="matrix(0.1246 0 0 0.1687 95.45 236.91)" font-family="'Liberation Serif', serif" font-size="100" fill="#000" style="font-kerning:none">(</text>
<g fill="none" stroke="#000" stroke-linecap="round" stroke-linejoin="round"><path d="M110.85 229.04 C107.94 232.43 103.78 237.51 100.45 240.66" stroke-width="0.75"/><path d="M101.70 230.74 C102.11 229.04 103.88 228.44 104.61 230.25 C105.65 233.16 106.48 236.79 107.52 239.45 C108.15 241.02 109.39 241.14 110.02 239.45" stroke-width="1.2"/></g>
<path d="M104.8 224.7 h4.6" stroke="#000" stroke-width="0.9"/>
<g fill="none" stroke="#000" stroke-linecap="round" stroke-linejoin="round"><path d="M112.21 231.68 C112.70 229.73 114.16 228.87 115.13 230.16 C116.26 231.89 116.91 234.70 116.99 237.08" stroke-width="1.1"/><path d="M116.99 237.08 C117.07 238.80 116.59 240.10 116.02 239.99 C115.37 239.88 115.53 238.37 116.26 236.86 C117.56 234.27 119.02 231.46 119.99 229.41" stroke-width="0.7"/></g>
<text transform="matrix(0.1192 0 0 0.0996 120.91 227.87)" font-family="'Liberation Serif', serif" font-size="100" font-style="italic" fill="#000" style="font-kerning:none">μ</text>
<g fill="none" stroke="#000" stroke-linecap="round" stroke-linejoin="round"><path d="M128.22 231.68 C128.73 229.73 130.26 228.87 131.28 230.16 C132.47 231.89 133.15 234.70 133.24 237.08" stroke-width="1.1"/><path d="M133.24 237.08 C133.32 238.80 132.81 240.10 132.22 239.99 C131.53 239.88 131.70 238.37 132.47 236.86 C133.83 234.27 135.36 231.46 136.38 229.41" stroke-width="0.7"/></g>
<text transform="matrix(0.1333 0 0 0.1192 136.91 239.54)" font-family="'Liberation Sans', sans-serif" font-size="100" fill="#000" stroke="#000" stroke-width="0.63" stroke-linejoin="round" style="font-kerning:none">5</text>
<g fill="none" stroke="#000" stroke-linecap="round" stroke-linejoin="round"><path d="M155.75 229.04 C152.87 232.43 148.75 237.51 145.45 240.66" stroke-width="0.75"/><path d="M146.69 230.74 C147.10 229.04 148.85 228.44 149.57 230.25 C150.60 233.16 151.42 236.79 152.45 239.45 C153.07 241.02 154.31 241.14 154.93 239.45" stroke-width="1.2"/></g>
<text transform="matrix(0.1246 0 0 0.1687 156.60 236.91)" font-family="'Liberation Serif', serif" font-size="100" fill="#000" style="font-kerning:none">)</text>
<text transform="matrix(0.1246 0 0 0.1687 162.25 236.91)" font-family="'Liberation Serif', serif" font-size="100" fill="#000" style="font-kerning:none">(</text>
<text transform="matrix(0.1687 0 0 0.1772 168.73 237.82)" font-family="'Liberation Sans', sans-serif" font-size="100" font-style="italic" fill="#000" style="font-kerning:none">q</text>
<path d="M171.6 225.1 h6.2" stroke="#000" stroke-width="0.9"/>
<g fill="none" stroke="#000" stroke-linecap="round" stroke-linejoin="round"><path d="M178.61 231.68 C179.09 229.73 180.53 228.87 181.49 230.16 C182.61 231.89 183.25 234.70 183.33 237.08" stroke-width="1.1"/><path d="M183.33 237.08 C183.41 238.80 182.93 240.10 182.37 239.99 C181.73 239.88 181.89 238.37 182.61 236.86 C183.89 234.27 185.33 231.46 186.29 229.41" stroke-width="0.7"/></g>
<text transform="matrix(0.1192 0 0 0.0951 187.71 239.77)" font-family="'Liberation Serif', serif" font-size="100" font-style="italic" fill="#000" style="font-kerning:none">μ</text>
<g fill="none" stroke="#000" stroke-linecap="round" stroke-linejoin="round"><path d="M194.62 231.68 C195.14 229.73 196.69 228.87 197.72 230.16 C198.92 231.89 199.61 234.70 199.70 237.08" stroke-width="1.1"/><path d="M199.70 237.08 C199.78 238.80 199.27 240.10 198.66 239.99 C197.98 239.88 198.15 238.37 198.92 236.86 C200.30 234.27 201.85 231.46 202.88 229.41" stroke-width="0.7"/></g>
<text transform="matrix(0.1312 0 0 0.1192 203.01 239.54)" font-family="'Liberation Sans', sans-serif" font-size="100" fill="#000" stroke="#000" stroke-width="0.64" stroke-linejoin="round" style="font-kerning:none">5</text>
<text transform="matrix(0.1823 0 0 0.1772 210.89 237.82)" font-family="'Liberation Sans', sans-serif" font-size="100" font-style="italic" fill="#000" style="font-kerning:none">q</text>
<text transform="matrix(0.1285 0 0 0.1687 222.09 236.91)" font-family="'Liberation Serif', serif" font-size="100" fill="#000" style="font-kerning:none">)</text>
<text transform="matrix(0.1753 0 0 0.1767 205.66 295.65)" font-family="'Liberation Sans', sans-serif" font-size="100" font-style="italic" fill="#000" stroke="#fff" stroke-width="1.70" stroke-linejoin="round" style="font-kerning:none">m</text>
<g fill="none" stroke="#000" stroke-linecap="round" stroke-linejoin="round"><path d="M227.05 292.91 C225.01 295.82 222.09 300.19 219.75 302.89" stroke-width="0.55"/><path d="M220.63 294.36 C220.92 292.91 222.16 292.39 222.67 293.95 C223.40 296.44 223.98 299.56 224.71 301.85 C225.15 303.20 226.03 303.31 226.47 301.85" stroke-width="1.05"/></g>
<text transform="matrix(1.0201 0 0 1 226.82 295.70)" font-family="'Liberation Sans', sans-serif" font-size="17" fill="#000" style="font-kerning:none">(GeV)</text>
<text transform="translate(13.9 170.0) rotate(-90) matrix(0.2080 0 0 0.1865 0.73 -0.03)" font-family="'Liberation Serif', serif" font-size="100" font-style="italic" fill="#000" stroke="#fff" stroke-width="1.52" stroke-linejoin="round" style="font-kerning:none">σ</text>
<g transform="translate(13.9 170.0) rotate(-90) " fill="none" stroke="#000" stroke-linecap="round" stroke-linejoin="round"><path d="M19.15 -2.04 C17.36 0.17 14.80 3.49 12.75 5.54" stroke-width="0.55"/><path d="M13.52 -0.94 C13.77 -2.04 14.86 -2.44 15.31 -1.25 C15.95 0.64 16.46 3.01 17.10 4.75 C17.49 5.78 18.25 5.86 18.64 4.75" stroke-width="1.0"/></g>
<g transform="translate(13.9 170.0) rotate(-90) " fill="none" stroke="#000" stroke-linecap="round" stroke-linejoin="round"><path d="M25.25 -2.04 C23.79 0.17 21.71 3.49 20.05 5.54" stroke-width="0.55"/><path d="M20.67 -0.94 C20.88 -2.04 21.77 -2.44 22.13 -1.25 C22.65 0.64 23.07 3.01 23.59 4.75 C23.90 5.78 24.52 5.86 24.83 4.75" stroke-width="1.0"/></g>
<g transform="translate(13.9 170.0) rotate(-90) " fill="none" stroke="#000" stroke-linecap="round" stroke-linejoin="round"><path d="M26.67 -0.32 C27.03 -1.61 28.11 -2.19 28.83 -1.32 C29.67 -0.17 30.15 1.70 30.21 3.28" stroke-width="1.0"/><path d="M30.21 3.28 C30.27 4.44 29.91 5.30 29.49 5.23 C29.01 5.16 29.13 4.15 29.67 3.14 C30.63 1.41 31.71 -0.46 32.43 -1.83" stroke-width="0.55"/></g>
<path d="M8.3 148.6 V145.2" stroke="#000" stroke-width="0.8"/>
<text transform="translate(13.9 170.0) rotate(-90) matrix(1.0132 0 0 1 34.43 0.00)" font-family="'Liberation Sans', sans-serif" font-size="17" fill="#000" style="font-kerning:none">(fb)</text>
</svg>
</body></html>
